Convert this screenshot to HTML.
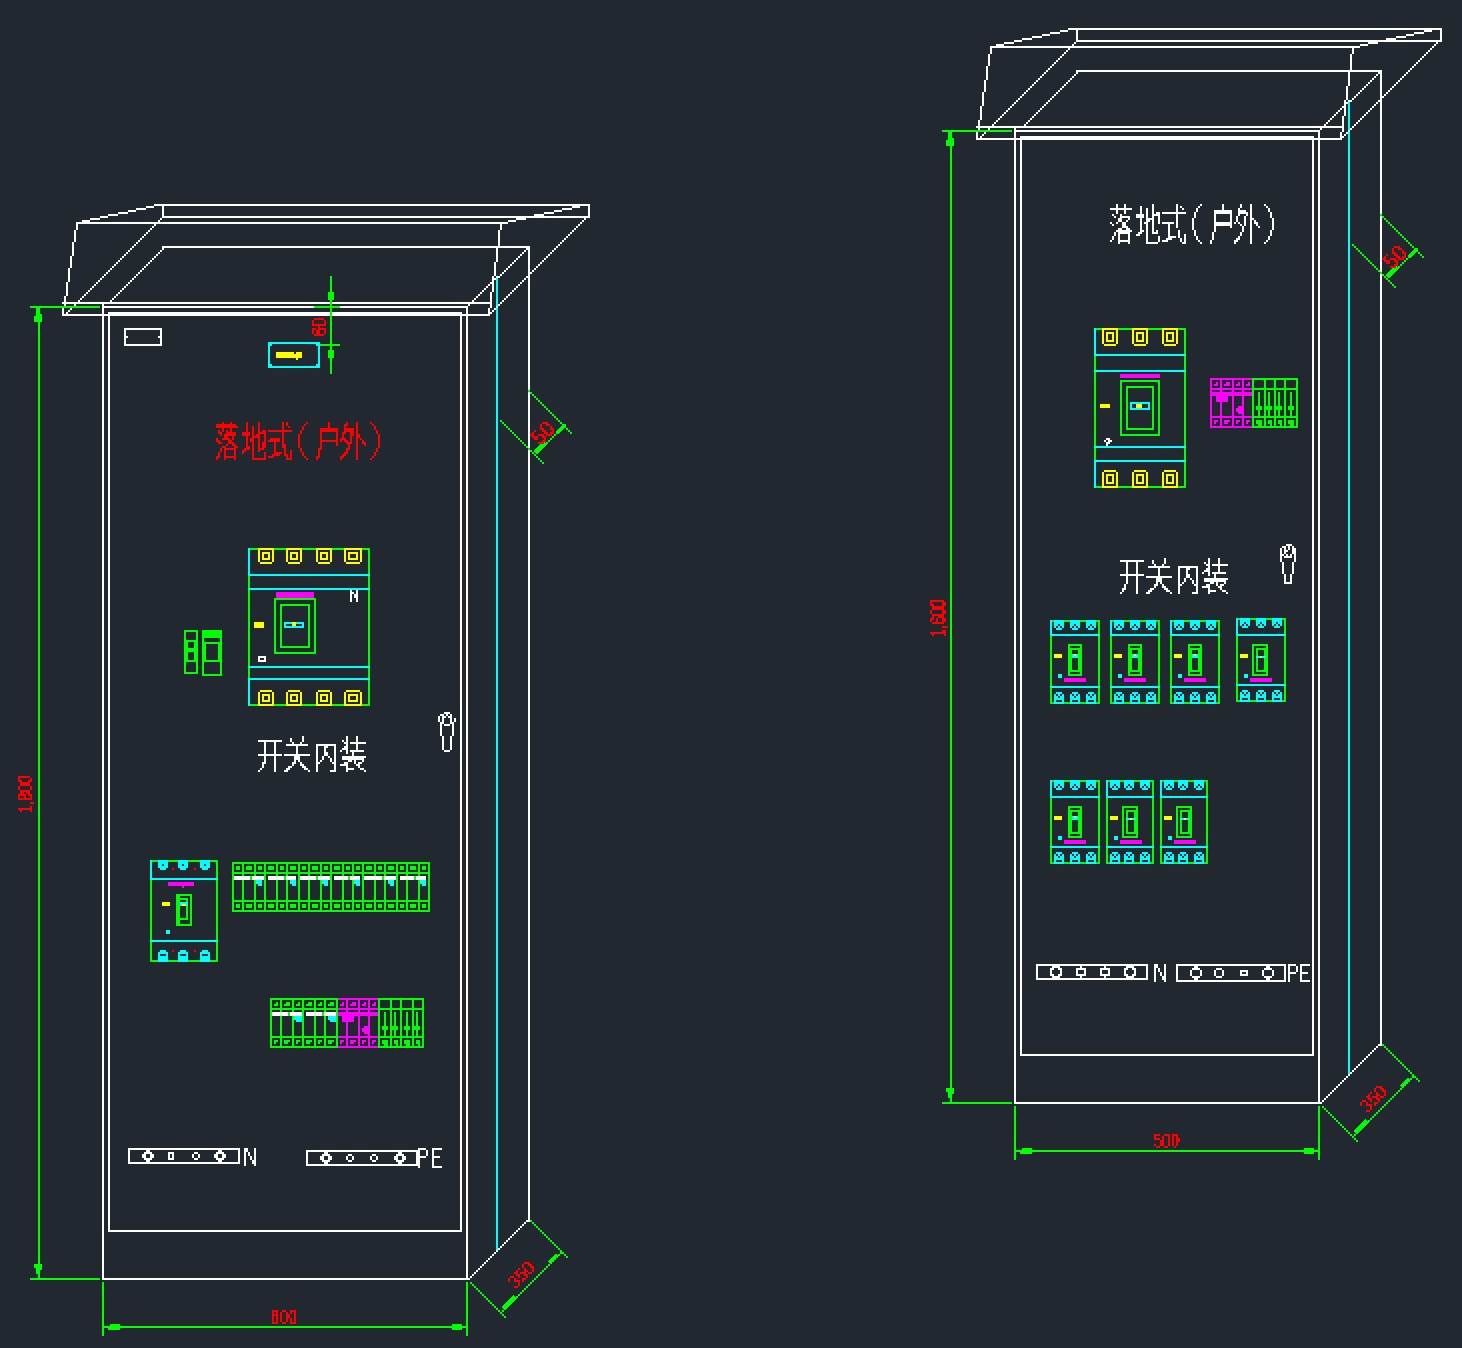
<!DOCTYPE html><html><head><meta charset="utf-8"><style>html,body{margin:0;padding:0;background:#212830;}svg{display:block}</style></head><body>
<svg width="1462" height="1348" viewBox="0 0 1462 1348" shape-rendering="crispEdges">
<rect width="1462" height="1348" fill="#212830"/>
<rect x="496" y="276" width="2" height="974" fill="#00ffff"/><rect x="158" y="204" width="432" height="2" fill="#ffffff"/><rect x="162" y="204" width="2" height="14" fill="#ffffff"/><rect x="588" y="204" width="2" height="14" fill="#ffffff"/><rect x="162" y="216" width="428" height="2" fill="#ffffff"/><path d="M158 204h2v2h-2zM156 204h2v2h-2zM154 204h2v2h-2zM152 206h2v2h-2zM150 206h2v2h-2zM148 206h2v2h-2zM146 206h2v2h-2zM144 208h2v2h-2zM142 208h2v2h-2zM140 208h2v2h-2zM138 208h2v2h-2zM136 208h2v2h-2zM134 210h2v2h-2zM132 210h2v2h-2zM130 210h2v2h-2zM128 210h2v2h-2zM126 212h2v2h-2zM124 212h2v2h-2zM122 212h2v2h-2zM120 212h2v2h-2zM118 212h2v2h-2zM116 214h2v2h-2zM114 214h2v2h-2zM112 214h2v2h-2zM110 214h2v2h-2zM108 214h2v2h-2zM106 216h2v2h-2zM104 216h2v2h-2zM102 216h2v2h-2zM100 216h2v2h-2zM98 218h2v2h-2zM96 218h2v2h-2zM94 218h2v2h-2zM92 218h2v2h-2zM90 218h2v2h-2zM88 220h2v2h-2zM86 220h2v2h-2zM84 220h2v2h-2zM82 220h2v2h-2zM80 222h2v2h-2zM78 222h2v2h-2zM76 222h2v2h-2z" fill="#ffffff"/><rect x="76" y="222" width="428" height="2" fill="#ffffff"/><path d="M502 222h2v2h-2zM504 222h2v2h-2zM506 222h2v2h-2zM508 220h2v2h-2zM510 220h2v2h-2zM512 220h2v2h-2zM514 220h2v2h-2zM516 218h2v2h-2zM518 218h2v2h-2zM520 218h2v2h-2zM522 218h2v2h-2zM524 218h2v2h-2zM526 216h2v2h-2zM528 216h2v2h-2zM530 216h2v2h-2zM532 216h2v2h-2zM534 214h2v2h-2zM536 214h2v2h-2zM538 214h2v2h-2zM540 214h2v2h-2zM542 214h2v2h-2zM544 212h2v2h-2zM546 212h2v2h-2zM548 212h2v2h-2zM550 212h2v2h-2zM552 212h2v2h-2zM554 210h2v2h-2zM556 210h2v2h-2zM558 210h2v2h-2zM560 210h2v2h-2zM562 208h2v2h-2zM564 208h2v2h-2zM566 208h2v2h-2zM568 208h2v2h-2zM570 208h2v2h-2zM572 206h2v2h-2zM574 206h2v2h-2zM576 206h2v2h-2zM578 206h2v2h-2zM580 204h2v2h-2zM582 204h2v2h-2zM584 204h2v2h-2z" fill="#ffffff"/><path d="M76 222h2v2h-2zM76 224h2v2h-2zM76 226h2v2h-2zM76 228h2v2h-2zM74 230h2v2h-2zM74 232h2v2h-2zM74 234h2v2h-2zM74 236h2v2h-2zM74 238h2v2h-2zM74 240h2v2h-2zM72 242h2v2h-2zM72 244h2v2h-2zM72 246h2v2h-2zM72 248h2v2h-2zM72 250h2v2h-2zM72 252h2v2h-2zM72 254h2v2h-2zM70 256h2v2h-2zM70 258h2v2h-2zM70 260h2v2h-2zM70 262h2v2h-2zM70 264h2v2h-2zM70 266h2v2h-2zM68 268h2v2h-2zM68 270h2v2h-2zM68 272h2v2h-2zM68 274h2v2h-2zM68 276h2v2h-2zM68 278h2v2h-2zM68 280h2v2h-2zM66 282h2v2h-2zM66 284h2v2h-2zM66 286h2v2h-2zM66 288h2v2h-2zM66 290h2v2h-2zM66 292h2v2h-2zM66 294h2v2h-2zM64 296h2v2h-2zM64 298h2v2h-2zM64 300h2v2h-2zM64 302h2v2h-2zM64 304h2v2h-2zM64 306h2v2h-2zM62 308h2v2h-2zM62 310h2v2h-2zM62 312h2v2h-2zM62 314h2v2h-2z" fill="#ffffff"/><path d="M500 222h2v2h-2zM500 224h2v2h-2zM500 226h2v2h-2zM500 228h2v2h-2zM498 230h2v2h-2zM498 232h2v2h-2zM498 234h2v2h-2zM498 236h2v2h-2zM498 238h2v2h-2zM498 240h2v2h-2zM498 242h2v2h-2zM498 244h2v2h-2zM496 246h2v2h-2zM496 248h2v2h-2zM496 250h2v2h-2zM496 252h2v2h-2zM496 254h2v2h-2zM496 256h2v2h-2zM496 258h2v2h-2zM496 260h2v2h-2zM494 262h2v2h-2zM494 264h2v2h-2zM494 266h2v2h-2zM494 268h2v2h-2zM494 270h2v2h-2zM494 272h2v2h-2zM494 274h2v2h-2zM492 276h2v2h-2zM492 278h2v2h-2zM492 280h2v2h-2zM492 282h2v2h-2zM492 284h2v2h-2zM492 286h2v2h-2zM492 288h2v2h-2zM492 290h2v2h-2zM490 292h2v2h-2zM490 294h2v2h-2zM490 296h2v2h-2zM490 298h2v2h-2zM490 300h2v2h-2zM490 302h2v2h-2zM490 304h2v2h-2zM490 306h2v2h-2zM488 308h2v2h-2zM488 310h2v2h-2zM488 312h2v2h-2zM488 314h2v2h-2z" fill="#ffffff"/><rect x="62" y="302" width="428" height="2" fill="#ffffff"/><rect x="62" y="314" width="428" height="2" fill="#ffffff"/><path d="M66 312h2v2h-2zM68 310h2v2h-2zM70 308h2v2h-2zM72 306h2v2h-2zM74 304h2v2h-2zM76 302h2v2h-2zM78 300h2v2h-2zM80 298h2v2h-2zM82 296h2v2h-2zM84 294h2v2h-2zM86 292h2v2h-2zM88 290h2v2h-2zM90 288h2v2h-2zM92 286h2v2h-2zM94 284h2v2h-2zM96 282h2v2h-2zM98 280h2v2h-2zM100 278h2v2h-2zM102 276h2v2h-2zM104 274h2v2h-2zM106 272h2v2h-2zM108 270h2v2h-2zM110 268h2v2h-2zM112 266h2v2h-2zM114 264h2v2h-2zM116 262h2v2h-2zM118 260h2v2h-2zM120 258h2v2h-2zM122 256h2v2h-2zM124 254h2v2h-2zM126 252h2v2h-2zM128 250h2v2h-2zM130 248h2v2h-2zM132 246h2v2h-2zM134 244h2v2h-2zM136 242h2v2h-2zM138 240h2v2h-2zM140 238h2v2h-2zM142 236h2v2h-2zM144 234h2v2h-2zM146 232h2v2h-2zM148 230h2v2h-2zM150 228h2v2h-2zM152 226h2v2h-2zM154 224h2v2h-2zM156 222h2v2h-2zM158 220h2v2h-2zM160 218h2v2h-2zM162 216h2v2h-2z" fill="#ffffff"/><path d="M490 312h2v2h-2zM492 310h2v2h-2zM494 308h2v2h-2zM496 306h2v2h-2zM498 304h2v2h-2zM500 302h2v2h-2zM502 300h2v2h-2zM504 298h2v2h-2zM506 296h2v2h-2zM508 294h2v2h-2zM510 292h2v2h-2zM512 290h2v2h-2zM514 288h2v2h-2zM516 286h2v2h-2zM518 284h2v2h-2zM520 282h2v2h-2zM522 280h2v2h-2zM524 278h2v2h-2zM526 276h2v2h-2zM528 274h2v2h-2zM530 272h2v2h-2zM532 270h2v2h-2zM534 268h2v2h-2zM536 266h2v2h-2zM538 264h2v2h-2zM540 262h2v2h-2zM542 260h2v2h-2zM544 258h2v2h-2zM546 256h2v2h-2zM548 254h2v2h-2zM550 252h2v2h-2zM552 250h2v2h-2zM554 248h2v2h-2zM556 246h2v2h-2zM558 244h2v2h-2zM560 242h2v2h-2zM562 240h2v2h-2zM564 238h2v2h-2zM566 236h2v2h-2zM568 234h2v2h-2zM570 232h2v2h-2zM572 230h2v2h-2zM574 228h2v2h-2zM576 226h2v2h-2zM578 224h2v2h-2zM580 222h2v2h-2zM582 220h2v2h-2zM584 218h2v2h-2zM586 216h2v2h-2zM588 214h2v2h-2z" fill="#ffffff"/><rect x="162" y="246" width="368" height="2" fill="#ffffff"/><path d="M108 302h2v2h-2zM110 300h2v2h-2zM112 298h2v2h-2zM114 296h2v2h-2zM116 294h2v2h-2zM118 292h2v2h-2zM120 290h2v2h-2zM122 288h2v2h-2zM124 286h2v2h-2zM126 284h2v2h-2zM128 282h2v2h-2zM130 280h2v2h-2zM132 278h2v2h-2zM134 276h2v2h-2zM136 274h2v2h-2zM138 272h2v2h-2zM140 270h2v2h-2zM142 268h2v2h-2zM144 266h2v2h-2zM146 264h2v2h-2zM148 262h2v2h-2zM150 260h2v2h-2zM152 258h2v2h-2zM154 256h2v2h-2zM156 254h2v2h-2zM158 252h2v2h-2zM160 250h2v2h-2zM162 248h2v2h-2z" fill="#ffffff"/><path d="M466 306h2v2h-2zM468 304h2v2h-2zM470 302h2v2h-2zM472 300h2v2h-2zM474 298h2v2h-2zM476 296h2v2h-2zM478 294h2v2h-2zM480 292h2v2h-2zM482 290h2v2h-2zM484 288h2v2h-2zM486 286h2v2h-2zM488 284h2v2h-2zM490 282h2v2h-2zM492 280h2v2h-2zM494 278h2v2h-2zM496 276h2v2h-2zM498 276h2v2h-2zM500 274h2v2h-2zM502 272h2v2h-2zM504 270h2v2h-2zM506 268h2v2h-2zM508 266h2v2h-2zM510 264h2v2h-2zM512 262h2v2h-2zM514 260h2v2h-2zM516 258h2v2h-2zM518 256h2v2h-2zM520 254h2v2h-2zM522 252h2v2h-2zM524 250h2v2h-2zM526 248h2v2h-2zM528 246h2v2h-2z" fill="#ffffff"/><rect x="528" y="246" width="2" height="976" fill="#ffffff"/><path d="M468 1278h2v2h-2zM470 1276h2v2h-2zM472 1274h2v2h-2zM474 1272h2v2h-2zM476 1270h2v2h-2zM478 1268h2v2h-2zM480 1266h2v2h-2zM482 1264h2v2h-2zM484 1262h2v2h-2zM486 1260h2v2h-2zM488 1258h2v2h-2zM490 1256h2v2h-2zM492 1254h2v2h-2zM494 1252h2v2h-2zM496 1250h2v2h-2zM498 1248h2v2h-2zM500 1246h2v2h-2zM502 1244h2v2h-2zM504 1242h2v2h-2zM506 1240h2v2h-2zM508 1238h2v2h-2zM510 1236h2v2h-2zM512 1234h2v2h-2zM514 1232h2v2h-2zM516 1230h2v2h-2zM518 1228h2v2h-2zM520 1226h2v2h-2zM522 1224h2v2h-2zM524 1222h2v2h-2zM526 1220h2v2h-2zM528 1218h2v2h-2z" fill="#ffffff"/><rect x="102" y="306" width="366" height="2" fill="#ffffff"/><rect x="102" y="304" width="2" height="976" fill="#ffffff"/><rect x="466" y="306" width="2" height="974" fill="#ffffff"/><rect x="102" y="1278" width="366" height="2" fill="#ffffff"/><rect x="108" y="312" width="354" height="2" fill="#ffffff"/><rect x="108" y="1230" width="354" height="2" fill="#ffffff"/><rect x="108" y="312" width="2" height="920" fill="#ffffff"/><rect x="460" y="312" width="2" height="920" fill="#ffffff"/><rect x="38" y="306" width="2" height="974" fill="#00ff00"/><rect x="30" y="306" width="70" height="2" fill="#00ff00"/><rect x="30" y="1278" width="70" height="2" fill="#00ff00"/><rect x="36" y="308" width="4" height="6" fill="#00ff00"/><rect x="36" y="314" width="6" height="8" fill="#00ff00"/><rect x="34" y="316" width="2" height="6" fill="#00ff00"/><rect x="34" y="1264" width="8" height="4" fill="#00ff00"/><rect x="36" y="1268" width="6" height="2" fill="#00ff00"/><rect x="36" y="1270" width="4" height="4" fill="#00ff00"/><rect x="102" y="1326" width="366" height="2" fill="#00ff00"/><rect x="102" y="1282" width="2" height="54" fill="#00ff00"/><rect x="466" y="1282" width="2" height="54" fill="#00ff00"/><rect x="110" y="1324" width="10" height="2" fill="#00ff00"/><rect x="108" y="1328" width="12" height="2" fill="#00ff00"/><rect x="452" y="1324" width="10" height="6" fill="#00ff00"/><path d="M470 1282h2v2h-2zM472 1284h2v2h-2zM474 1286h2v2h-2zM476 1288h2v2h-2zM478 1290h2v2h-2zM480 1292h2v2h-2zM482 1294h2v2h-2zM484 1296h2v2h-2zM486 1298h2v2h-2zM488 1300h2v2h-2zM490 1302h2v2h-2zM492 1304h2v2h-2zM494 1306h2v2h-2zM496 1308h2v2h-2zM498 1310h2v2h-2zM500 1312h2v2h-2zM502 1314h2v2h-2zM504 1316h2v2h-2z" fill="#00ff00"/><path d="M530 1220h2v2h-2zM532 1222h2v2h-2zM534 1224h2v2h-2zM536 1226h2v2h-2zM538 1228h2v2h-2zM540 1230h2v2h-2zM542 1232h2v2h-2zM544 1234h2v2h-2zM546 1236h2v2h-2zM548 1238h2v2h-2zM550 1240h2v2h-2zM552 1242h2v2h-2zM554 1244h2v2h-2zM556 1246h2v2h-2zM558 1248h2v2h-2zM560 1250h2v2h-2zM562 1252h2v2h-2zM564 1254h2v2h-2zM566 1256h2v2h-2z" fill="#00ff00"/><path d="M502 1310h2v2h-2zM504 1308h2v2h-2zM506 1306h2v2h-2zM508 1304h2v2h-2zM510 1302h2v2h-2zM512 1300h2v2h-2zM514 1298h2v2h-2zM516 1296h2v2h-2zM518 1294h2v2h-2zM520 1292h2v2h-2zM522 1290h2v2h-2zM524 1288h2v2h-2zM526 1286h2v2h-2zM528 1284h2v2h-2zM530 1282h2v2h-2zM532 1280h2v2h-2zM534 1278h2v2h-2zM536 1276h2v2h-2zM538 1274h2v2h-2zM540 1272h2v2h-2zM542 1270h2v2h-2zM544 1268h2v2h-2zM546 1266h2v2h-2zM548 1264h2v2h-2zM550 1262h2v2h-2zM552 1260h2v2h-2zM554 1258h2v2h-2zM556 1256h2v2h-2zM558 1254h2v2h-2zM560 1252h2v2h-2z" fill="#00ff00"/><line x1="503" y1="1309" x2="515" y2="1297" stroke="#00ff00" stroke-width="4.5"/><line x1="549" y1="1263" x2="557" y2="1255" stroke="#00ff00" stroke-width="3"/><path d="M528 390h2v2h-2zM530 392h2v2h-2zM532 394h2v2h-2zM534 396h2v2h-2zM536 398h2v2h-2zM538 400h2v2h-2zM540 402h2v2h-2zM542 404h2v2h-2zM544 406h2v2h-2zM546 408h2v2h-2zM548 410h2v2h-2zM550 412h2v2h-2zM552 414h2v2h-2zM554 416h2v2h-2zM556 418h2v2h-2zM558 420h2v2h-2zM560 422h2v2h-2zM562 424h2v2h-2zM564 426h2v2h-2zM566 428h2v2h-2zM568 430h2v2h-2zM570 432h2v2h-2z" fill="#00ff00"/><path d="M500 420h2v2h-2zM502 422h2v2h-2zM504 424h2v2h-2zM506 426h2v2h-2zM508 428h2v2h-2zM510 430h2v2h-2zM512 432h2v2h-2zM514 434h2v2h-2zM516 436h2v2h-2zM518 438h2v2h-2zM520 440h2v2h-2zM522 442h2v2h-2zM524 444h2v2h-2zM526 446h2v2h-2zM528 448h2v2h-2zM530 450h2v2h-2zM532 452h2v2h-2zM534 454h2v2h-2zM536 456h2v2h-2zM538 458h2v2h-2zM540 460h2v2h-2zM542 462h2v2h-2z" fill="#00ff00"/><path d="M534 454h2v2h-2zM536 452h2v2h-2zM538 450h2v2h-2zM540 448h2v2h-2zM542 446h2v2h-2zM544 444h2v2h-2zM546 442h2v2h-2zM548 440h2v2h-2zM550 438h2v2h-2zM552 436h2v2h-2zM554 434h2v2h-2zM556 432h2v2h-2zM558 430h2v2h-2zM560 428h2v2h-2zM562 426h2v2h-2zM564 424h2v2h-2z" fill="#00ff00"/><line x1="535" y1="453" x2="545" y2="443" stroke="#00ff00" stroke-width="4.5"/><line x1="557" y1="433" x2="563" y2="427" stroke="#00ff00" stroke-width="3"/><rect x="330" y="276" width="2" height="98" fill="#00ff00"/><rect x="314" y="306" width="26" height="2" fill="#00ff00"/><rect x="320" y="344" width="20" height="2" fill="#00ff00"/><rect x="328" y="292" width="6" height="8" fill="#00ff00"/><rect x="328" y="350" width="6" height="8" fill="#00ff00"/><rect x="1348" y="100" width="2" height="974" fill="#00ffff"/><rect x="1072" y="28" width="370" height="2" fill="#ffffff"/><rect x="1076" y="28" width="2" height="14" fill="#ffffff"/><rect x="1440" y="28" width="2" height="14" fill="#ffffff"/><rect x="1076" y="40" width="366" height="2" fill="#ffffff"/><path d="M1072 28h2v2h-2zM1070 28h2v2h-2zM1068 28h2v2h-2zM1066 30h2v2h-2zM1064 30h2v2h-2zM1062 30h2v2h-2zM1060 30h2v2h-2zM1058 32h2v2h-2zM1056 32h2v2h-2zM1054 32h2v2h-2zM1052 32h2v2h-2zM1050 32h2v2h-2zM1048 34h2v2h-2zM1046 34h2v2h-2zM1044 34h2v2h-2zM1042 34h2v2h-2zM1040 36h2v2h-2zM1038 36h2v2h-2zM1036 36h2v2h-2zM1034 36h2v2h-2zM1032 36h2v2h-2zM1030 38h2v2h-2zM1028 38h2v2h-2zM1026 38h2v2h-2zM1024 38h2v2h-2zM1022 38h2v2h-2zM1020 40h2v2h-2zM1018 40h2v2h-2zM1016 40h2v2h-2zM1014 40h2v2h-2zM1012 42h2v2h-2zM1010 42h2v2h-2zM1008 42h2v2h-2zM1006 42h2v2h-2zM1004 42h2v2h-2zM1002 44h2v2h-2zM1000 44h2v2h-2zM998 44h2v2h-2zM996 44h2v2h-2zM994 46h2v2h-2zM992 46h2v2h-2zM990 46h2v2h-2z" fill="#ffffff"/><rect x="990" y="46" width="366" height="2" fill="#ffffff"/><path d="M1354 46h2v2h-2zM1356 46h2v2h-2zM1358 46h2v2h-2zM1360 44h2v2h-2zM1362 44h2v2h-2zM1364 44h2v2h-2zM1366 44h2v2h-2zM1368 42h2v2h-2zM1370 42h2v2h-2zM1372 42h2v2h-2zM1374 42h2v2h-2zM1376 42h2v2h-2zM1378 40h2v2h-2zM1380 40h2v2h-2zM1382 40h2v2h-2zM1384 40h2v2h-2zM1386 38h2v2h-2zM1388 38h2v2h-2zM1390 38h2v2h-2zM1392 38h2v2h-2zM1394 38h2v2h-2zM1396 36h2v2h-2zM1398 36h2v2h-2zM1400 36h2v2h-2zM1402 36h2v2h-2zM1404 36h2v2h-2zM1406 34h2v2h-2zM1408 34h2v2h-2zM1410 34h2v2h-2zM1412 34h2v2h-2zM1414 32h2v2h-2zM1416 32h2v2h-2zM1418 32h2v2h-2zM1420 32h2v2h-2zM1422 32h2v2h-2zM1424 30h2v2h-2zM1426 30h2v2h-2zM1428 30h2v2h-2zM1430 30h2v2h-2zM1432 28h2v2h-2zM1434 28h2v2h-2zM1436 28h2v2h-2z" fill="#ffffff"/><path d="M990 46h2v2h-2zM990 48h2v2h-2zM990 50h2v2h-2zM990 52h2v2h-2zM988 54h2v2h-2zM988 56h2v2h-2zM988 58h2v2h-2zM988 60h2v2h-2zM988 62h2v2h-2zM988 64h2v2h-2zM986 66h2v2h-2zM986 68h2v2h-2zM986 70h2v2h-2zM986 72h2v2h-2zM986 74h2v2h-2zM986 76h2v2h-2zM986 78h2v2h-2zM984 80h2v2h-2zM984 82h2v2h-2zM984 84h2v2h-2zM984 86h2v2h-2zM984 88h2v2h-2zM984 90h2v2h-2zM982 92h2v2h-2zM982 94h2v2h-2zM982 96h2v2h-2zM982 98h2v2h-2zM982 100h2v2h-2zM982 102h2v2h-2zM982 104h2v2h-2zM980 106h2v2h-2zM980 108h2v2h-2zM980 110h2v2h-2zM980 112h2v2h-2zM980 114h2v2h-2zM980 116h2v2h-2zM980 118h2v2h-2zM978 120h2v2h-2zM978 122h2v2h-2zM978 124h2v2h-2zM978 126h2v2h-2zM978 128h2v2h-2zM978 130h2v2h-2zM976 132h2v2h-2zM976 134h2v2h-2zM976 136h2v2h-2zM976 138h2v2h-2z" fill="#ffffff"/><path d="M1352 46h2v2h-2zM1352 48h2v2h-2zM1352 50h2v2h-2zM1352 52h2v2h-2zM1350 54h2v2h-2zM1350 56h2v2h-2zM1350 58h2v2h-2zM1350 60h2v2h-2zM1350 62h2v2h-2zM1350 64h2v2h-2zM1350 66h2v2h-2zM1350 68h2v2h-2zM1348 70h2v2h-2zM1348 72h2v2h-2zM1348 74h2v2h-2zM1348 76h2v2h-2zM1348 78h2v2h-2zM1348 80h2v2h-2zM1348 82h2v2h-2zM1348 84h2v2h-2zM1346 86h2v2h-2zM1346 88h2v2h-2zM1346 90h2v2h-2zM1346 92h2v2h-2zM1346 94h2v2h-2zM1346 96h2v2h-2zM1346 98h2v2h-2zM1344 100h2v2h-2zM1344 102h2v2h-2zM1344 104h2v2h-2zM1344 106h2v2h-2zM1344 108h2v2h-2zM1344 110h2v2h-2zM1344 112h2v2h-2zM1344 114h2v2h-2zM1342 116h2v2h-2zM1342 118h2v2h-2zM1342 120h2v2h-2zM1342 122h2v2h-2zM1342 124h2v2h-2zM1342 126h2v2h-2zM1342 128h2v2h-2zM1342 130h2v2h-2zM1340 132h2v2h-2zM1340 134h2v2h-2zM1340 136h2v2h-2zM1340 138h2v2h-2z" fill="#ffffff"/><rect x="976" y="126" width="366" height="2" fill="#ffffff"/><rect x="976" y="138" width="366" height="2" fill="#ffffff"/><path d="M980 136h2v2h-2zM982 134h2v2h-2zM984 132h2v2h-2zM986 130h2v2h-2zM988 128h2v2h-2zM990 126h2v2h-2zM992 124h2v2h-2zM994 122h2v2h-2zM996 120h2v2h-2zM998 118h2v2h-2zM1000 116h2v2h-2zM1002 114h2v2h-2zM1004 112h2v2h-2zM1006 110h2v2h-2zM1008 108h2v2h-2zM1010 106h2v2h-2zM1012 104h2v2h-2zM1014 102h2v2h-2zM1016 100h2v2h-2zM1018 98h2v2h-2zM1020 96h2v2h-2zM1022 94h2v2h-2zM1024 92h2v2h-2zM1026 90h2v2h-2zM1028 88h2v2h-2zM1030 86h2v2h-2zM1032 84h2v2h-2zM1034 82h2v2h-2zM1036 80h2v2h-2zM1038 78h2v2h-2zM1040 76h2v2h-2zM1042 74h2v2h-2zM1044 72h2v2h-2zM1046 70h2v2h-2zM1048 68h2v2h-2zM1050 66h2v2h-2zM1052 64h2v2h-2zM1054 62h2v2h-2zM1056 60h2v2h-2zM1058 58h2v2h-2zM1060 56h2v2h-2zM1062 54h2v2h-2zM1064 52h2v2h-2zM1066 50h2v2h-2zM1068 48h2v2h-2zM1070 46h2v2h-2zM1072 44h2v2h-2zM1074 42h2v2h-2zM1076 40h2v2h-2z" fill="#ffffff"/><path d="M1342 136h2v2h-2zM1344 134h2v2h-2zM1346 132h2v2h-2zM1348 130h2v2h-2zM1350 128h2v2h-2zM1352 126h2v2h-2zM1354 124h2v2h-2zM1356 122h2v2h-2zM1358 120h2v2h-2zM1360 118h2v2h-2zM1362 116h2v2h-2zM1364 114h2v2h-2zM1366 112h2v2h-2zM1368 110h2v2h-2zM1370 108h2v2h-2zM1372 106h2v2h-2zM1374 104h2v2h-2zM1376 102h2v2h-2zM1378 100h2v2h-2zM1380 98h2v2h-2zM1382 96h2v2h-2zM1384 94h2v2h-2zM1386 92h2v2h-2zM1388 90h2v2h-2zM1390 88h2v2h-2zM1392 86h2v2h-2zM1394 84h2v2h-2zM1396 82h2v2h-2zM1398 80h2v2h-2zM1400 78h2v2h-2zM1402 76h2v2h-2zM1404 74h2v2h-2zM1406 72h2v2h-2zM1408 70h2v2h-2zM1410 68h2v2h-2zM1412 66h2v2h-2zM1414 64h2v2h-2zM1416 62h2v2h-2zM1418 60h2v2h-2zM1420 58h2v2h-2zM1422 56h2v2h-2zM1424 54h2v2h-2zM1426 52h2v2h-2zM1428 50h2v2h-2zM1430 48h2v2h-2zM1432 46h2v2h-2zM1434 44h2v2h-2zM1436 42h2v2h-2zM1438 40h2v2h-2zM1440 38h2v2h-2z" fill="#ffffff"/><rect x="1076" y="70" width="306" height="2" fill="#ffffff"/><path d="M1022 126h2v2h-2zM1024 124h2v2h-2zM1026 122h2v2h-2zM1028 120h2v2h-2zM1030 118h2v2h-2zM1032 116h2v2h-2zM1034 114h2v2h-2zM1036 112h2v2h-2zM1038 110h2v2h-2zM1040 108h2v2h-2zM1042 106h2v2h-2zM1044 104h2v2h-2zM1046 102h2v2h-2zM1048 100h2v2h-2zM1050 98h2v2h-2zM1052 96h2v2h-2zM1054 94h2v2h-2zM1056 92h2v2h-2zM1058 90h2v2h-2zM1060 88h2v2h-2zM1062 86h2v2h-2zM1064 84h2v2h-2zM1066 82h2v2h-2zM1068 80h2v2h-2zM1070 78h2v2h-2zM1072 76h2v2h-2zM1074 74h2v2h-2zM1076 72h2v2h-2z" fill="#ffffff"/><path d="M1318 130h2v2h-2zM1320 128h2v2h-2zM1322 126h2v2h-2zM1324 124h2v2h-2zM1326 122h2v2h-2zM1328 120h2v2h-2zM1330 118h2v2h-2zM1332 116h2v2h-2zM1334 114h2v2h-2zM1336 112h2v2h-2zM1338 110h2v2h-2zM1340 108h2v2h-2zM1342 106h2v2h-2zM1344 104h2v2h-2zM1346 102h2v2h-2zM1348 100h2v2h-2zM1350 100h2v2h-2zM1352 98h2v2h-2zM1354 96h2v2h-2zM1356 94h2v2h-2zM1358 92h2v2h-2zM1360 90h2v2h-2zM1362 88h2v2h-2zM1364 86h2v2h-2zM1366 84h2v2h-2zM1368 82h2v2h-2zM1370 80h2v2h-2zM1372 78h2v2h-2zM1374 76h2v2h-2zM1376 74h2v2h-2zM1378 72h2v2h-2zM1380 70h2v2h-2z" fill="#ffffff"/><rect x="1380" y="70" width="2" height="976" fill="#ffffff"/><path d="M1320 1102h2v2h-2zM1322 1100h2v2h-2zM1324 1098h2v2h-2zM1326 1096h2v2h-2zM1328 1094h2v2h-2zM1330 1092h2v2h-2zM1332 1090h2v2h-2zM1334 1088h2v2h-2zM1336 1086h2v2h-2zM1338 1084h2v2h-2zM1340 1082h2v2h-2zM1342 1080h2v2h-2zM1344 1078h2v2h-2zM1346 1076h2v2h-2zM1348 1074h2v2h-2zM1350 1072h2v2h-2zM1352 1070h2v2h-2zM1354 1068h2v2h-2zM1356 1066h2v2h-2zM1358 1064h2v2h-2zM1360 1062h2v2h-2zM1362 1060h2v2h-2zM1364 1058h2v2h-2zM1366 1056h2v2h-2zM1368 1054h2v2h-2zM1370 1052h2v2h-2zM1372 1050h2v2h-2zM1374 1048h2v2h-2zM1376 1046h2v2h-2zM1378 1044h2v2h-2zM1380 1042h2v2h-2z" fill="#ffffff"/><rect x="1014" y="130" width="306" height="2" fill="#ffffff"/><rect x="1014" y="128" width="2" height="976" fill="#ffffff"/><rect x="1318" y="130" width="2" height="974" fill="#ffffff"/><rect x="1014" y="1102" width="306" height="2" fill="#ffffff"/><rect x="1020" y="136" width="294" height="2" fill="#ffffff"/><rect x="1020" y="1054" width="294" height="2" fill="#ffffff"/><rect x="1020" y="136" width="2" height="920" fill="#ffffff"/><rect x="1312" y="136" width="2" height="920" fill="#ffffff"/><rect x="950" y="130" width="2" height="974" fill="#00ff00"/><rect x="942" y="130" width="70" height="2" fill="#00ff00"/><rect x="942" y="1102" width="70" height="2" fill="#00ff00"/><rect x="948" y="132" width="4" height="6" fill="#00ff00"/><rect x="948" y="138" width="6" height="8" fill="#00ff00"/><rect x="946" y="140" width="2" height="6" fill="#00ff00"/><rect x="946" y="1088" width="8" height="4" fill="#00ff00"/><rect x="948" y="1092" width="6" height="2" fill="#00ff00"/><rect x="948" y="1094" width="4" height="4" fill="#00ff00"/><rect x="1014" y="1150" width="306" height="2" fill="#00ff00"/><rect x="1014" y="1106" width="2" height="54" fill="#00ff00"/><rect x="1318" y="1106" width="2" height="54" fill="#00ff00"/><rect x="1022" y="1148" width="10" height="2" fill="#00ff00"/><rect x="1020" y="1152" width="12" height="2" fill="#00ff00"/><rect x="1304" y="1148" width="10" height="6" fill="#00ff00"/><path d="M1322 1106h2v2h-2zM1324 1108h2v2h-2zM1326 1110h2v2h-2zM1328 1112h2v2h-2zM1330 1114h2v2h-2zM1332 1116h2v2h-2zM1334 1118h2v2h-2zM1336 1120h2v2h-2zM1338 1122h2v2h-2zM1340 1124h2v2h-2zM1342 1126h2v2h-2zM1344 1128h2v2h-2zM1346 1130h2v2h-2zM1348 1132h2v2h-2zM1350 1134h2v2h-2zM1352 1136h2v2h-2zM1354 1138h2v2h-2zM1356 1140h2v2h-2z" fill="#00ff00"/><path d="M1382 1044h2v2h-2zM1384 1046h2v2h-2zM1386 1048h2v2h-2zM1388 1050h2v2h-2zM1390 1052h2v2h-2zM1392 1054h2v2h-2zM1394 1056h2v2h-2zM1396 1058h2v2h-2zM1398 1060h2v2h-2zM1400 1062h2v2h-2zM1402 1064h2v2h-2zM1404 1066h2v2h-2zM1406 1068h2v2h-2zM1408 1070h2v2h-2zM1410 1072h2v2h-2zM1412 1074h2v2h-2zM1414 1076h2v2h-2zM1416 1078h2v2h-2zM1418 1080h2v2h-2z" fill="#00ff00"/><path d="M1354 1134h2v2h-2zM1356 1132h2v2h-2zM1358 1130h2v2h-2zM1360 1128h2v2h-2zM1362 1126h2v2h-2zM1364 1124h2v2h-2zM1366 1122h2v2h-2zM1368 1120h2v2h-2zM1370 1118h2v2h-2zM1372 1116h2v2h-2zM1374 1114h2v2h-2zM1376 1112h2v2h-2zM1378 1110h2v2h-2zM1380 1108h2v2h-2zM1382 1106h2v2h-2zM1384 1104h2v2h-2zM1386 1102h2v2h-2zM1388 1100h2v2h-2zM1390 1098h2v2h-2zM1392 1096h2v2h-2zM1394 1094h2v2h-2zM1396 1092h2v2h-2zM1398 1090h2v2h-2zM1400 1088h2v2h-2zM1402 1086h2v2h-2zM1404 1084h2v2h-2zM1406 1082h2v2h-2zM1408 1080h2v2h-2zM1410 1078h2v2h-2zM1412 1076h2v2h-2z" fill="#00ff00"/><line x1="1355" y1="1133" x2="1367" y2="1121" stroke="#00ff00" stroke-width="4.5"/><line x1="1401" y1="1087" x2="1409" y2="1079" stroke="#00ff00" stroke-width="3"/><path d="M1380 214h2v2h-2zM1382 216h2v2h-2zM1384 218h2v2h-2zM1386 220h2v2h-2zM1388 222h2v2h-2zM1390 224h2v2h-2zM1392 226h2v2h-2zM1394 228h2v2h-2zM1396 230h2v2h-2zM1398 232h2v2h-2zM1400 234h2v2h-2zM1402 236h2v2h-2zM1404 238h2v2h-2zM1406 240h2v2h-2zM1408 242h2v2h-2zM1410 244h2v2h-2zM1412 246h2v2h-2zM1414 248h2v2h-2zM1416 250h2v2h-2zM1418 252h2v2h-2zM1420 254h2v2h-2zM1422 256h2v2h-2z" fill="#00ff00"/><path d="M1352 244h2v2h-2zM1354 246h2v2h-2zM1356 248h2v2h-2zM1358 250h2v2h-2zM1360 252h2v2h-2zM1362 254h2v2h-2zM1364 256h2v2h-2zM1366 258h2v2h-2zM1368 260h2v2h-2zM1370 262h2v2h-2zM1372 264h2v2h-2zM1374 266h2v2h-2zM1376 268h2v2h-2zM1378 270h2v2h-2zM1380 272h2v2h-2zM1382 274h2v2h-2zM1384 276h2v2h-2zM1386 278h2v2h-2zM1388 280h2v2h-2zM1390 282h2v2h-2zM1392 284h2v2h-2zM1394 286h2v2h-2z" fill="#00ff00"/><path d="M1386 278h2v2h-2zM1388 276h2v2h-2zM1390 274h2v2h-2zM1392 272h2v2h-2zM1394 270h2v2h-2zM1396 268h2v2h-2zM1398 266h2v2h-2zM1400 264h2v2h-2zM1402 262h2v2h-2zM1404 260h2v2h-2zM1406 258h2v2h-2zM1408 256h2v2h-2zM1410 254h2v2h-2zM1412 252h2v2h-2zM1414 250h2v2h-2zM1416 248h2v2h-2z" fill="#00ff00"/><line x1="1387" y1="277" x2="1397" y2="267" stroke="#00ff00" stroke-width="4.5"/><line x1="1409" y1="257" x2="1415" y2="251" stroke="#00ff00" stroke-width="3"/><rect x="124" y="328" width="38" height="2" fill="#ffffff"/><rect x="124" y="344" width="38" height="2" fill="#ffffff"/><rect x="124" y="328" width="2" height="18" fill="#ffffff"/><rect x="160" y="328" width="2" height="18" fill="#ffffff"/><rect x="126" y="336" width="2" height="2" fill="#ffffff"/><rect x="158" y="336" width="2" height="2" fill="#ffffff"/><rect x="268" y="342" width="52" height="2" fill="#00ffff"/><rect x="268" y="366" width="52" height="2" fill="#00ffff"/><rect x="268" y="342" width="2" height="26" fill="#00ffff"/><rect x="318" y="342" width="2" height="26" fill="#00ffff"/><rect x="276" y="352" width="26" height="6" fill="#ffff00"/><rect x="296" y="358" width="2" height="2" fill="#ffff00"/><rect x="294" y="352" width="2" height="2" fill="#212830"/><rect x="270" y="344" width="2" height="2" fill="#00ffff"/><rect x="316" y="344" width="2" height="2" fill="#00ffff"/><rect x="270" y="364" width="2" height="2" fill="#00ffff"/><rect x="316" y="364" width="2" height="2" fill="#00ffff"/><rect x="248" y="548" width="122" height="2" fill="#00ff00"/><rect x="248" y="704" width="122" height="2" fill="#00ff00"/><rect x="368" y="548" width="2" height="158" fill="#00ff00"/><rect x="248" y="548" width="2" height="28" fill="#00ffff"/><rect x="248" y="576" width="2" height="104" fill="#00ff00"/><rect x="248" y="678" width="2" height="28" fill="#00ffff"/><rect x="248" y="574" width="122" height="2" fill="#00ffff"/><rect x="248" y="588" width="122" height="2" fill="#00ffff"/><rect x="248" y="666" width="122" height="2" fill="#00ffff"/><rect x="248" y="678" width="122" height="2" fill="#00ffff"/><rect x="258" y="548" width="16" height="2" fill="#ffff00"/><rect x="258" y="548" width="2" height="14" fill="#ffff00"/><rect x="272" y="548" width="2" height="14" fill="#ffff00"/><rect x="260" y="562" width="12" height="2" fill="#ffff00"/><rect x="262" y="552" width="8" height="2" fill="#ffff00"/><rect x="262" y="558" width="8" height="2" fill="#ffff00"/><rect x="262" y="552" width="2" height="8" fill="#ffff00"/><rect x="268" y="552" width="2" height="8" fill="#ffff00"/><rect x="264" y="554" width="4" height="4" fill="#212830"/><rect x="260" y="690" width="12" height="2" fill="#ffff00"/><rect x="258" y="692" width="2" height="14" fill="#ffff00"/><rect x="272" y="692" width="2" height="14" fill="#ffff00"/><rect x="258" y="704" width="16" height="2" fill="#ffff00"/><rect x="262" y="694" width="8" height="2" fill="#ffff00"/><rect x="262" y="700" width="8" height="2" fill="#ffff00"/><rect x="262" y="694" width="2" height="8" fill="#ffff00"/><rect x="268" y="694" width="2" height="8" fill="#ffff00"/><rect x="264" y="696" width="4" height="4" fill="#212830"/><rect x="286" y="548" width="16" height="2" fill="#ffff00"/><rect x="286" y="548" width="2" height="14" fill="#ffff00"/><rect x="300" y="548" width="2" height="14" fill="#ffff00"/><rect x="288" y="562" width="12" height="2" fill="#ffff00"/><rect x="290" y="552" width="8" height="2" fill="#ffff00"/><rect x="290" y="558" width="8" height="2" fill="#ffff00"/><rect x="290" y="552" width="2" height="8" fill="#ffff00"/><rect x="296" y="552" width="2" height="8" fill="#ffff00"/><rect x="292" y="554" width="4" height="4" fill="#212830"/><rect x="288" y="690" width="12" height="2" fill="#ffff00"/><rect x="286" y="692" width="2" height="14" fill="#ffff00"/><rect x="300" y="692" width="2" height="14" fill="#ffff00"/><rect x="286" y="704" width="16" height="2" fill="#ffff00"/><rect x="290" y="694" width="8" height="2" fill="#ffff00"/><rect x="290" y="700" width="8" height="2" fill="#ffff00"/><rect x="290" y="694" width="2" height="8" fill="#ffff00"/><rect x="296" y="694" width="2" height="8" fill="#ffff00"/><rect x="292" y="696" width="4" height="4" fill="#212830"/><rect x="316" y="548" width="16" height="2" fill="#ffff00"/><rect x="316" y="548" width="2" height="14" fill="#ffff00"/><rect x="330" y="548" width="2" height="14" fill="#ffff00"/><rect x="318" y="562" width="12" height="2" fill="#ffff00"/><rect x="320" y="552" width="8" height="2" fill="#ffff00"/><rect x="320" y="558" width="8" height="2" fill="#ffff00"/><rect x="320" y="552" width="2" height="8" fill="#ffff00"/><rect x="326" y="552" width="2" height="8" fill="#ffff00"/><rect x="322" y="554" width="4" height="4" fill="#212830"/><rect x="318" y="690" width="12" height="2" fill="#ffff00"/><rect x="316" y="692" width="2" height="14" fill="#ffff00"/><rect x="330" y="692" width="2" height="14" fill="#ffff00"/><rect x="316" y="704" width="16" height="2" fill="#ffff00"/><rect x="320" y="694" width="8" height="2" fill="#ffff00"/><rect x="320" y="700" width="8" height="2" fill="#ffff00"/><rect x="320" y="694" width="2" height="8" fill="#ffff00"/><rect x="326" y="694" width="2" height="8" fill="#ffff00"/><rect x="322" y="696" width="4" height="4" fill="#212830"/><rect x="344" y="548" width="18" height="2" fill="#ffff00"/><rect x="344" y="548" width="2" height="14" fill="#ffff00"/><rect x="360" y="548" width="2" height="14" fill="#ffff00"/><rect x="346" y="562" width="14" height="2" fill="#ffff00"/><rect x="348" y="552" width="10" height="2" fill="#ffff00"/><rect x="348" y="558" width="10" height="2" fill="#ffff00"/><rect x="348" y="552" width="2" height="8" fill="#ffff00"/><rect x="356" y="552" width="2" height="8" fill="#ffff00"/><rect x="350" y="554" width="6" height="4" fill="#212830"/><rect x="346" y="690" width="14" height="2" fill="#ffff00"/><rect x="344" y="692" width="2" height="14" fill="#ffff00"/><rect x="360" y="692" width="2" height="14" fill="#ffff00"/><rect x="344" y="704" width="18" height="2" fill="#ffff00"/><rect x="348" y="694" width="10" height="2" fill="#ffff00"/><rect x="348" y="700" width="10" height="2" fill="#ffff00"/><rect x="348" y="694" width="2" height="8" fill="#ffff00"/><rect x="356" y="694" width="2" height="8" fill="#ffff00"/><rect x="350" y="696" width="6" height="4" fill="#212830"/><rect x="276" y="592" width="38" height="6" fill="#ff00ff"/><rect x="274" y="598" width="42" height="2" fill="#00ff00"/><rect x="274" y="652" width="42" height="2" fill="#00ff00"/><rect x="274" y="598" width="2" height="56" fill="#00ff00"/><rect x="314" y="598" width="2" height="56" fill="#00ff00"/><rect x="280" y="604" width="30" height="2" fill="#00ff00"/><rect x="280" y="646" width="30" height="2" fill="#00ff00"/><rect x="280" y="604" width="2" height="44" fill="#00ff00"/><rect x="308" y="604" width="2" height="44" fill="#00ff00"/><rect x="284" y="622" width="20" height="2" fill="#00ffff"/><rect x="284" y="626" width="20" height="2" fill="#00ffff"/><rect x="284" y="622" width="2" height="6" fill="#00ffff"/><rect x="302" y="622" width="2" height="6" fill="#00ffff"/><rect x="292" y="622" width="4" height="4" fill="#ffff00"/><rect x="254" y="622" width="10" height="6" fill="#ffff00"/><rect x="258" y="656" width="8" height="2" fill="#ffffff"/><rect x="258" y="660" width="8" height="2" fill="#ffffff"/><rect x="258" y="656" width="2" height="6" fill="#ffffff"/><rect x="264" y="656" width="2" height="6" fill="#ffffff"/><rect x="184" y="630" width="14" height="44" fill="#00ff00"/><rect x="186" y="632" width="10" height="8" fill="#212830"/><rect x="188" y="642" width="6" height="6" fill="#212830"/><rect x="188" y="652" width="6" height="8" fill="#212830"/><rect x="186" y="662" width="10" height="10" fill="#212830"/><rect x="202" y="630" width="20" height="46" fill="#00ff00"/><rect x="204" y="638" width="16" height="4" fill="#212830"/><rect x="206" y="644" width="12" height="16" fill="#212830"/><rect x="204" y="662" width="16" height="12" fill="#212830"/><rect x="150" y="860" width="68" height="2" fill="#00ff00"/><rect x="150" y="960" width="68" height="2" fill="#00ff00"/><rect x="216" y="860" width="2" height="102" fill="#00ff00"/><rect x="150" y="860" width="2" height="20" fill="#00ffff"/><rect x="150" y="880" width="2" height="82" fill="#00ff00"/><rect x="158" y="860" width="10" height="10" fill="#00ffff"/><rect x="162" y="864" width="2" height="2" fill="#212830"/><rect x="158" y="868" width="2" height="2" fill="#212830"/><rect x="166" y="868" width="2" height="2" fill="#212830"/><rect x="158" y="950" width="10" height="12" fill="#00ffff"/><rect x="160" y="954" width="6" height="2" fill="#212830"/><rect x="158" y="950" width="2" height="2" fill="#212830"/><rect x="166" y="950" width="2" height="2" fill="#212830"/><rect x="178" y="860" width="10" height="10" fill="#00ffff"/><rect x="182" y="864" width="2" height="2" fill="#212830"/><rect x="178" y="868" width="2" height="2" fill="#212830"/><rect x="186" y="868" width="2" height="2" fill="#212830"/><rect x="178" y="950" width="10" height="12" fill="#00ffff"/><rect x="180" y="954" width="6" height="2" fill="#212830"/><rect x="178" y="950" width="2" height="2" fill="#212830"/><rect x="186" y="950" width="2" height="2" fill="#212830"/><rect x="200" y="860" width="10" height="10" fill="#00ffff"/><rect x="204" y="864" width="2" height="2" fill="#212830"/><rect x="200" y="868" width="2" height="2" fill="#212830"/><rect x="208" y="868" width="2" height="2" fill="#212830"/><rect x="200" y="950" width="10" height="12" fill="#00ffff"/><rect x="202" y="954" width="6" height="2" fill="#212830"/><rect x="200" y="950" width="2" height="2" fill="#212830"/><rect x="208" y="950" width="2" height="2" fill="#212830"/><rect x="172" y="868" width="2" height="2" fill="#ff0000"/><rect x="194" y="868" width="2" height="2" fill="#ff0000"/><rect x="172" y="950" width="2" height="2" fill="#ff0000"/><rect x="194" y="950" width="2" height="2" fill="#ff0000"/><rect x="150" y="878" width="68" height="2" fill="#00ffff"/><rect x="150" y="940" width="68" height="2" fill="#00ffff"/><rect x="168" y="882" width="26" height="4" fill="#ff00ff"/><rect x="182" y="886" width="2" height="2" fill="#ff00ff"/><rect x="176" y="894" width="16" height="2" fill="#00ff00"/><rect x="176" y="924" width="16" height="2" fill="#00ff00"/><rect x="176" y="894" width="2" height="32" fill="#00ff00"/><rect x="190" y="894" width="2" height="32" fill="#00ff00"/><rect x="178" y="896" width="2" height="28" fill="#00ff00"/><rect x="178" y="898" width="10" height="2" fill="#00ff00"/><rect x="178" y="918" width="10" height="2" fill="#00ff00"/><rect x="178" y="898" width="2" height="22" fill="#00ff00"/><rect x="186" y="898" width="2" height="22" fill="#00ff00"/><rect x="180" y="902" width="8" height="4" fill="#00ffff"/><rect x="182" y="904" width="4" height="2" fill="#ffff00"/><rect x="162" y="902" width="8" height="4" fill="#ffff00"/><rect x="166" y="930" width="4" height="4" fill="#00ffff"/><rect x="232" y="862" width="12" height="50" fill="#00ff00"/><rect x="234" y="874" width="8" height="26" fill="#212830"/><rect x="234" y="864" width="8" height="8" fill="#212830"/><rect x="236" y="866" width="4" height="4" fill="#00ff00"/><rect x="234" y="902" width="8" height="8" fill="#212830"/><rect x="236" y="904" width="4" height="4" fill="#00ff00"/><rect x="242" y="862" width="14" height="50" fill="#00ff00"/><rect x="244" y="874" width="10" height="26" fill="#212830"/><rect x="244" y="864" width="10" height="8" fill="#212830"/><rect x="246" y="866" width="6" height="4" fill="#00ff00"/><rect x="244" y="902" width="10" height="8" fill="#212830"/><rect x="246" y="904" width="6" height="4" fill="#00ff00"/><rect x="254" y="862" width="12" height="50" fill="#00ff00"/><rect x="256" y="874" width="8" height="26" fill="#212830"/><rect x="256" y="864" width="8" height="8" fill="#212830"/><rect x="258" y="866" width="4" height="4" fill="#00ff00"/><rect x="256" y="902" width="8" height="8" fill="#212830"/><rect x="258" y="904" width="4" height="4" fill="#00ff00"/><rect x="264" y="862" width="14" height="50" fill="#00ff00"/><rect x="266" y="874" width="10" height="26" fill="#212830"/><rect x="266" y="864" width="10" height="8" fill="#212830"/><rect x="268" y="866" width="6" height="4" fill="#00ff00"/><rect x="266" y="902" width="10" height="8" fill="#212830"/><rect x="268" y="904" width="6" height="4" fill="#00ff00"/><rect x="276" y="862" width="12" height="50" fill="#00ff00"/><rect x="278" y="874" width="8" height="26" fill="#212830"/><rect x="278" y="864" width="8" height="8" fill="#212830"/><rect x="280" y="866" width="4" height="4" fill="#00ff00"/><rect x="278" y="902" width="8" height="8" fill="#212830"/><rect x="280" y="904" width="4" height="4" fill="#00ff00"/><rect x="286" y="862" width="14" height="50" fill="#00ff00"/><rect x="288" y="874" width="10" height="26" fill="#212830"/><rect x="288" y="864" width="10" height="8" fill="#212830"/><rect x="290" y="866" width="6" height="4" fill="#00ff00"/><rect x="288" y="902" width="10" height="8" fill="#212830"/><rect x="290" y="904" width="6" height="4" fill="#00ff00"/><rect x="298" y="862" width="12" height="50" fill="#00ff00"/><rect x="300" y="874" width="8" height="26" fill="#212830"/><rect x="300" y="864" width="8" height="8" fill="#212830"/><rect x="302" y="866" width="4" height="4" fill="#00ff00"/><rect x="300" y="902" width="8" height="8" fill="#212830"/><rect x="302" y="904" width="4" height="4" fill="#00ff00"/><rect x="308" y="862" width="14" height="50" fill="#00ff00"/><rect x="310" y="874" width="10" height="26" fill="#212830"/><rect x="310" y="864" width="10" height="8" fill="#212830"/><rect x="312" y="866" width="6" height="4" fill="#00ff00"/><rect x="310" y="902" width="10" height="8" fill="#212830"/><rect x="312" y="904" width="6" height="4" fill="#00ff00"/><rect x="320" y="862" width="12" height="50" fill="#00ff00"/><rect x="322" y="874" width="8" height="26" fill="#212830"/><rect x="322" y="864" width="8" height="8" fill="#212830"/><rect x="324" y="866" width="4" height="4" fill="#00ff00"/><rect x="322" y="902" width="8" height="8" fill="#212830"/><rect x="324" y="904" width="4" height="4" fill="#00ff00"/><rect x="330" y="862" width="14" height="50" fill="#00ff00"/><rect x="332" y="874" width="10" height="26" fill="#212830"/><rect x="332" y="864" width="10" height="8" fill="#212830"/><rect x="334" y="866" width="6" height="4" fill="#00ff00"/><rect x="332" y="902" width="10" height="8" fill="#212830"/><rect x="334" y="904" width="6" height="4" fill="#00ff00"/><rect x="342" y="862" width="12" height="50" fill="#00ff00"/><rect x="344" y="874" width="8" height="26" fill="#212830"/><rect x="344" y="864" width="8" height="8" fill="#212830"/><rect x="346" y="866" width="4" height="4" fill="#00ff00"/><rect x="344" y="902" width="8" height="8" fill="#212830"/><rect x="346" y="904" width="4" height="4" fill="#00ff00"/><rect x="352" y="862" width="12" height="50" fill="#00ff00"/><rect x="354" y="874" width="8" height="26" fill="#212830"/><rect x="354" y="864" width="8" height="8" fill="#212830"/><rect x="356" y="866" width="4" height="4" fill="#00ff00"/><rect x="354" y="902" width="8" height="8" fill="#212830"/><rect x="356" y="904" width="4" height="4" fill="#00ff00"/><rect x="362" y="862" width="14" height="50" fill="#00ff00"/><rect x="364" y="874" width="10" height="26" fill="#212830"/><rect x="364" y="864" width="10" height="8" fill="#212830"/><rect x="366" y="866" width="6" height="4" fill="#00ff00"/><rect x="364" y="902" width="10" height="8" fill="#212830"/><rect x="366" y="904" width="6" height="4" fill="#00ff00"/><rect x="374" y="862" width="12" height="50" fill="#00ff00"/><rect x="376" y="874" width="8" height="26" fill="#212830"/><rect x="376" y="864" width="8" height="8" fill="#212830"/><rect x="378" y="866" width="4" height="4" fill="#00ff00"/><rect x="376" y="902" width="8" height="8" fill="#212830"/><rect x="378" y="904" width="4" height="4" fill="#00ff00"/><rect x="384" y="862" width="14" height="50" fill="#00ff00"/><rect x="386" y="874" width="10" height="26" fill="#212830"/><rect x="386" y="864" width="10" height="8" fill="#212830"/><rect x="388" y="866" width="6" height="4" fill="#00ff00"/><rect x="386" y="902" width="10" height="8" fill="#212830"/><rect x="388" y="904" width="6" height="4" fill="#00ff00"/><rect x="396" y="862" width="12" height="50" fill="#00ff00"/><rect x="398" y="874" width="8" height="26" fill="#212830"/><rect x="398" y="864" width="8" height="8" fill="#212830"/><rect x="400" y="866" width="4" height="4" fill="#00ff00"/><rect x="398" y="902" width="8" height="8" fill="#212830"/><rect x="400" y="904" width="4" height="4" fill="#00ff00"/><rect x="406" y="862" width="14" height="50" fill="#00ff00"/><rect x="408" y="874" width="10" height="26" fill="#212830"/><rect x="408" y="864" width="10" height="8" fill="#212830"/><rect x="410" y="866" width="6" height="4" fill="#00ff00"/><rect x="408" y="902" width="10" height="8" fill="#212830"/><rect x="410" y="904" width="6" height="4" fill="#00ff00"/><rect x="418" y="862" width="12" height="50" fill="#00ff00"/><rect x="420" y="874" width="8" height="26" fill="#212830"/><rect x="420" y="864" width="8" height="8" fill="#212830"/><rect x="422" y="866" width="4" height="4" fill="#00ff00"/><rect x="420" y="902" width="8" height="8" fill="#212830"/><rect x="422" y="904" width="4" height="4" fill="#00ff00"/><rect x="234" y="876" width="30" height="2" fill="#ffffff"/><rect x="234" y="878" width="30" height="2" fill="#ffffff"/><rect x="250" y="876" width="2" height="4" fill="#00ff00"/><rect x="256" y="880" width="6" height="6" fill="#00ffff"/><rect x="256" y="884" width="2" height="2" fill="#212830"/><rect x="268" y="876" width="28" height="2" fill="#ffffff"/><rect x="268" y="878" width="28" height="2" fill="#ffffff"/><rect x="284" y="876" width="2" height="4" fill="#00ff00"/><rect x="290" y="880" width="6" height="6" fill="#00ffff"/><rect x="290" y="884" width="2" height="2" fill="#212830"/><rect x="300" y="876" width="30" height="2" fill="#ffffff"/><rect x="300" y="878" width="30" height="2" fill="#ffffff"/><rect x="316" y="876" width="2" height="4" fill="#00ff00"/><rect x="322" y="880" width="6" height="6" fill="#00ffff"/><rect x="322" y="884" width="2" height="2" fill="#212830"/><rect x="334" y="876" width="26" height="2" fill="#ffffff"/><rect x="334" y="878" width="26" height="2" fill="#ffffff"/><rect x="348" y="876" width="2" height="4" fill="#00ff00"/><rect x="354" y="880" width="6" height="6" fill="#00ffff"/><rect x="354" y="884" width="2" height="2" fill="#212830"/><rect x="364" y="876" width="32" height="2" fill="#ffffff"/><rect x="364" y="878" width="32" height="2" fill="#ffffff"/><rect x="382" y="876" width="2" height="4" fill="#00ff00"/><rect x="388" y="880" width="6" height="6" fill="#00ffff"/><rect x="388" y="884" width="2" height="2" fill="#212830"/><rect x="400" y="876" width="26" height="2" fill="#ffffff"/><rect x="400" y="878" width="26" height="2" fill="#ffffff"/><rect x="414" y="876" width="2" height="4" fill="#00ff00"/><rect x="420" y="880" width="6" height="6" fill="#00ffff"/><rect x="420" y="884" width="2" height="2" fill="#212830"/><rect x="270" y="998" width="12" height="50" fill="#00ff00"/><rect x="272" y="1010" width="8" height="26" fill="#212830"/><rect x="272" y="1000" width="8" height="8" fill="#212830"/><rect x="274" y="1002" width="4" height="4" fill="#00ff00"/><rect x="274" y="1002" width="2" height="2" fill="#212830"/><rect x="272" y="1038" width="8" height="8" fill="#212830"/><rect x="274" y="1040" width="4" height="4" fill="#00ff00"/><rect x="276" y="1042" width="2" height="2" fill="#212830"/><rect x="280" y="998" width="14" height="50" fill="#00ff00"/><rect x="282" y="1010" width="10" height="26" fill="#212830"/><rect x="282" y="1000" width="10" height="8" fill="#212830"/><rect x="284" y="1002" width="6" height="4" fill="#00ff00"/><rect x="284" y="1002" width="2" height="2" fill="#212830"/><rect x="282" y="1038" width="10" height="8" fill="#212830"/><rect x="284" y="1040" width="6" height="4" fill="#00ff00"/><rect x="288" y="1042" width="2" height="2" fill="#212830"/><rect x="292" y="998" width="12" height="50" fill="#00ff00"/><rect x="294" y="1010" width="8" height="26" fill="#212830"/><rect x="294" y="1000" width="8" height="8" fill="#212830"/><rect x="296" y="1002" width="4" height="4" fill="#00ff00"/><rect x="296" y="1002" width="2" height="2" fill="#212830"/><rect x="294" y="1038" width="8" height="8" fill="#212830"/><rect x="296" y="1040" width="4" height="4" fill="#00ff00"/><rect x="298" y="1042" width="2" height="2" fill="#212830"/><rect x="302" y="998" width="14" height="50" fill="#00ff00"/><rect x="304" y="1010" width="10" height="26" fill="#212830"/><rect x="304" y="1000" width="10" height="8" fill="#212830"/><rect x="306" y="1002" width="6" height="4" fill="#00ff00"/><rect x="306" y="1002" width="2" height="2" fill="#212830"/><rect x="304" y="1038" width="10" height="8" fill="#212830"/><rect x="306" y="1040" width="6" height="4" fill="#00ff00"/><rect x="310" y="1042" width="2" height="2" fill="#212830"/><rect x="314" y="998" width="12" height="50" fill="#00ff00"/><rect x="316" y="1010" width="8" height="26" fill="#212830"/><rect x="316" y="1000" width="8" height="8" fill="#212830"/><rect x="318" y="1002" width="4" height="4" fill="#00ff00"/><rect x="318" y="1002" width="2" height="2" fill="#212830"/><rect x="316" y="1038" width="8" height="8" fill="#212830"/><rect x="318" y="1040" width="4" height="4" fill="#00ff00"/><rect x="320" y="1042" width="2" height="2" fill="#212830"/><rect x="324" y="998" width="14" height="50" fill="#00ff00"/><rect x="326" y="1010" width="10" height="26" fill="#212830"/><rect x="326" y="1000" width="10" height="8" fill="#212830"/><rect x="328" y="1002" width="6" height="4" fill="#00ff00"/><rect x="328" y="1002" width="2" height="2" fill="#212830"/><rect x="326" y="1038" width="10" height="8" fill="#212830"/><rect x="328" y="1040" width="6" height="4" fill="#00ff00"/><rect x="332" y="1042" width="2" height="2" fill="#212830"/><rect x="336" y="998" width="12" height="50" fill="#ff00ff"/><rect x="338" y="1010" width="8" height="26" fill="#212830"/><rect x="338" y="1000" width="8" height="8" fill="#212830"/><rect x="340" y="1002" width="4" height="4" fill="#ff00ff"/><rect x="340" y="1002" width="2" height="2" fill="#212830"/><rect x="338" y="1038" width="8" height="8" fill="#212830"/><rect x="340" y="1040" width="4" height="4" fill="#ff00ff"/><rect x="342" y="1042" width="2" height="2" fill="#212830"/><rect x="346" y="998" width="14" height="50" fill="#ff00ff"/><rect x="348" y="1010" width="10" height="26" fill="#212830"/><rect x="348" y="1000" width="10" height="8" fill="#212830"/><rect x="350" y="1002" width="6" height="4" fill="#ff00ff"/><rect x="350" y="1002" width="2" height="2" fill="#212830"/><rect x="348" y="1038" width="10" height="8" fill="#212830"/><rect x="350" y="1040" width="6" height="4" fill="#ff00ff"/><rect x="354" y="1042" width="2" height="2" fill="#212830"/><rect x="358" y="998" width="12" height="50" fill="#ff00ff"/><rect x="360" y="1010" width="8" height="26" fill="#212830"/><rect x="360" y="1000" width="8" height="8" fill="#212830"/><rect x="362" y="1002" width="4" height="4" fill="#ff00ff"/><rect x="362" y="1002" width="2" height="2" fill="#212830"/><rect x="360" y="1038" width="8" height="8" fill="#212830"/><rect x="362" y="1040" width="4" height="4" fill="#ff00ff"/><rect x="364" y="1042" width="2" height="2" fill="#212830"/><rect x="368" y="998" width="12" height="50" fill="#ff00ff"/><rect x="370" y="1010" width="8" height="26" fill="#212830"/><rect x="370" y="1000" width="8" height="8" fill="#212830"/><rect x="372" y="1002" width="4" height="4" fill="#ff00ff"/><rect x="372" y="1002" width="2" height="2" fill="#212830"/><rect x="370" y="1038" width="8" height="8" fill="#212830"/><rect x="372" y="1040" width="4" height="4" fill="#ff00ff"/><rect x="374" y="1042" width="2" height="2" fill="#212830"/><rect x="378" y="998" width="14" height="50" fill="#00ff00"/><rect x="380" y="1010" width="10" height="26" fill="#212830"/><rect x="380" y="1000" width="10" height="8" fill="#212830"/><rect x="380" y="1038" width="10" height="8" fill="#212830"/><rect x="382" y="1040" width="6" height="6" fill="#00ff00"/><rect x="382" y="1044" width="2" height="2" fill="#212830"/><rect x="390" y="998" width="12" height="50" fill="#00ff00"/><rect x="392" y="1010" width="8" height="26" fill="#212830"/><rect x="392" y="1000" width="8" height="8" fill="#212830"/><rect x="392" y="1038" width="8" height="8" fill="#212830"/><rect x="394" y="1040" width="4" height="6" fill="#00ff00"/><rect x="394" y="1044" width="2" height="2" fill="#212830"/><rect x="400" y="998" width="14" height="50" fill="#00ff00"/><rect x="402" y="1010" width="10" height="26" fill="#212830"/><rect x="402" y="1000" width="10" height="8" fill="#212830"/><rect x="402" y="1038" width="10" height="8" fill="#212830"/><rect x="404" y="1040" width="6" height="6" fill="#00ff00"/><rect x="404" y="1044" width="2" height="2" fill="#212830"/><rect x="412" y="998" width="12" height="50" fill="#00ff00"/><rect x="414" y="1010" width="8" height="26" fill="#212830"/><rect x="414" y="1000" width="8" height="8" fill="#212830"/><rect x="414" y="1038" width="8" height="8" fill="#212830"/><rect x="416" y="1040" width="4" height="6" fill="#00ff00"/><rect x="416" y="1044" width="2" height="2" fill="#212830"/><rect x="336" y="998" width="2" height="50" fill="#00ff00"/><rect x="272" y="1012" width="30" height="2" fill="#ffffff"/><rect x="272" y="1014" width="30" height="2" fill="#ffffff"/><rect x="288" y="1012" width="2" height="4" fill="#00ff00"/><rect x="294" y="1016" width="8" height="6" fill="#00ffff"/><rect x="294" y="1020" width="2" height="2" fill="#212830"/><rect x="306" y="1012" width="30" height="2" fill="#ffffff"/><rect x="306" y="1014" width="30" height="2" fill="#ffffff"/><rect x="322" y="1012" width="2" height="4" fill="#00ff00"/><rect x="328" y="1016" width="8" height="6" fill="#00ffff"/><rect x="328" y="1020" width="2" height="2" fill="#212830"/><rect x="338" y="1012" width="40" height="4" fill="#ff00ff"/><rect x="342" y="1016" width="12" height="6" fill="#ff00ff"/><rect x="362" y="1026" width="6" height="8" fill="#ff00ff"/><rect x="362" y="1026" width="2" height="2" fill="#212830"/><rect x="362" y="1032" width="2" height="2" fill="#212830"/><rect x="384" y="1012" width="2" height="24" fill="#00ff00"/><rect x="382" y="1026" width="6" height="4" fill="#00ff00"/><rect x="394" y="1012" width="2" height="24" fill="#00ff00"/><rect x="392" y="1026" width="6" height="4" fill="#00ff00"/><rect x="406" y="1012" width="2" height="24" fill="#00ff00"/><rect x="404" y="1026" width="6" height="4" fill="#00ff00"/><rect x="416" y="1012" width="2" height="24" fill="#00ff00"/><rect x="414" y="1026" width="6" height="4" fill="#00ff00"/><rect x="128" y="1148" width="112" height="2" fill="#ffffff"/><rect x="128" y="1162" width="112" height="2" fill="#ffffff"/><rect x="128" y="1148" width="2" height="16" fill="#ffffff"/><rect x="238" y="1148" width="2" height="16" fill="#ffffff"/><rect x="146" y="1150" width="2" height="2" fill="#ffffff"/><rect x="148" y="1150" width="2" height="2" fill="#ffffff"/><rect x="144" y="1152" width="2" height="2" fill="#ffffff"/><rect x="146" y="1152" width="2" height="2" fill="#ffffff"/><rect x="148" y="1152" width="2" height="2" fill="#ffffff"/><rect x="150" y="1152" width="2" height="2" fill="#ffffff"/><rect x="142" y="1154" width="2" height="2" fill="#ffffff"/><rect x="144" y="1154" width="2" height="2" fill="#ffffff"/><rect x="150" y="1154" width="2" height="2" fill="#ffffff"/><rect x="152" y="1154" width="2" height="2" fill="#ffffff"/><rect x="142" y="1156" width="2" height="2" fill="#ffffff"/><rect x="144" y="1156" width="2" height="2" fill="#ffffff"/><rect x="150" y="1156" width="2" height="2" fill="#ffffff"/><rect x="152" y="1156" width="2" height="2" fill="#ffffff"/><rect x="144" y="1158" width="2" height="2" fill="#ffffff"/><rect x="146" y="1158" width="2" height="2" fill="#ffffff"/><rect x="148" y="1158" width="2" height="2" fill="#ffffff"/><rect x="150" y="1158" width="2" height="2" fill="#ffffff"/><rect x="146" y="1160" width="2" height="2" fill="#ffffff"/><rect x="148" y="1160" width="2" height="2" fill="#ffffff"/><rect x="168" y="1152" width="2" height="2" fill="#ffffff"/><rect x="170" y="1152" width="2" height="2" fill="#ffffff"/><rect x="172" y="1152" width="2" height="2" fill="#ffffff"/><rect x="168" y="1154" width="2" height="2" fill="#ffffff"/><rect x="172" y="1154" width="2" height="2" fill="#ffffff"/><rect x="168" y="1156" width="2" height="2" fill="#ffffff"/><rect x="172" y="1156" width="2" height="2" fill="#ffffff"/><rect x="168" y="1158" width="2" height="2" fill="#ffffff"/><rect x="170" y="1158" width="2" height="2" fill="#ffffff"/><rect x="172" y="1158" width="2" height="2" fill="#ffffff"/><rect x="194" y="1152" width="2" height="2" fill="#ffffff"/><rect x="196" y="1152" width="2" height="2" fill="#ffffff"/><rect x="192" y="1154" width="2" height="2" fill="#ffffff"/><rect x="198" y="1154" width="2" height="2" fill="#ffffff"/><rect x="192" y="1156" width="2" height="2" fill="#ffffff"/><rect x="198" y="1156" width="2" height="2" fill="#ffffff"/><rect x="194" y="1158" width="2" height="2" fill="#ffffff"/><rect x="196" y="1158" width="2" height="2" fill="#ffffff"/><rect x="218" y="1150" width="2" height="2" fill="#ffffff"/><rect x="220" y="1150" width="2" height="2" fill="#ffffff"/><rect x="216" y="1152" width="2" height="2" fill="#ffffff"/><rect x="218" y="1152" width="2" height="2" fill="#ffffff"/><rect x="220" y="1152" width="2" height="2" fill="#ffffff"/><rect x="222" y="1152" width="2" height="2" fill="#ffffff"/><rect x="214" y="1154" width="2" height="2" fill="#ffffff"/><rect x="216" y="1154" width="2" height="2" fill="#ffffff"/><rect x="222" y="1154" width="2" height="2" fill="#ffffff"/><rect x="224" y="1154" width="2" height="2" fill="#ffffff"/><rect x="214" y="1156" width="2" height="2" fill="#ffffff"/><rect x="216" y="1156" width="2" height="2" fill="#ffffff"/><rect x="222" y="1156" width="2" height="2" fill="#ffffff"/><rect x="224" y="1156" width="2" height="2" fill="#ffffff"/><rect x="216" y="1158" width="2" height="2" fill="#ffffff"/><rect x="218" y="1158" width="2" height="2" fill="#ffffff"/><rect x="220" y="1158" width="2" height="2" fill="#ffffff"/><rect x="222" y="1158" width="2" height="2" fill="#ffffff"/><rect x="218" y="1160" width="2" height="2" fill="#ffffff"/><rect x="220" y="1160" width="2" height="2" fill="#ffffff"/><rect x="306" y="1150" width="112" height="2" fill="#ffffff"/><rect x="306" y="1164" width="112" height="2" fill="#ffffff"/><rect x="306" y="1150" width="2" height="16" fill="#ffffff"/><rect x="416" y="1150" width="2" height="16" fill="#ffffff"/><rect x="324" y="1152" width="2" height="2" fill="#ffffff"/><rect x="326" y="1152" width="2" height="2" fill="#ffffff"/><rect x="322" y="1154" width="2" height="2" fill="#ffffff"/><rect x="324" y="1154" width="2" height="2" fill="#ffffff"/><rect x="326" y="1154" width="2" height="2" fill="#ffffff"/><rect x="328" y="1154" width="2" height="2" fill="#ffffff"/><rect x="320" y="1156" width="2" height="2" fill="#ffffff"/><rect x="322" y="1156" width="2" height="2" fill="#ffffff"/><rect x="328" y="1156" width="2" height="2" fill="#ffffff"/><rect x="330" y="1156" width="2" height="2" fill="#ffffff"/><rect x="320" y="1158" width="2" height="2" fill="#ffffff"/><rect x="322" y="1158" width="2" height="2" fill="#ffffff"/><rect x="328" y="1158" width="2" height="2" fill="#ffffff"/><rect x="330" y="1158" width="2" height="2" fill="#ffffff"/><rect x="322" y="1160" width="2" height="2" fill="#ffffff"/><rect x="324" y="1160" width="2" height="2" fill="#ffffff"/><rect x="326" y="1160" width="2" height="2" fill="#ffffff"/><rect x="328" y="1160" width="2" height="2" fill="#ffffff"/><rect x="324" y="1162" width="2" height="2" fill="#ffffff"/><rect x="326" y="1162" width="2" height="2" fill="#ffffff"/><rect x="348" y="1154" width="2" height="2" fill="#ffffff"/><rect x="350" y="1154" width="2" height="2" fill="#ffffff"/><rect x="346" y="1156" width="2" height="2" fill="#ffffff"/><rect x="352" y="1156" width="2" height="2" fill="#ffffff"/><rect x="346" y="1158" width="2" height="2" fill="#ffffff"/><rect x="352" y="1158" width="2" height="2" fill="#ffffff"/><rect x="348" y="1160" width="2" height="2" fill="#ffffff"/><rect x="350" y="1160" width="2" height="2" fill="#ffffff"/><rect x="372" y="1154" width="2" height="2" fill="#ffffff"/><rect x="374" y="1154" width="2" height="2" fill="#ffffff"/><rect x="370" y="1156" width="2" height="2" fill="#ffffff"/><rect x="376" y="1156" width="2" height="2" fill="#ffffff"/><rect x="370" y="1158" width="2" height="2" fill="#ffffff"/><rect x="376" y="1158" width="2" height="2" fill="#ffffff"/><rect x="372" y="1160" width="2" height="2" fill="#ffffff"/><rect x="374" y="1160" width="2" height="2" fill="#ffffff"/><rect x="398" y="1152" width="2" height="2" fill="#ffffff"/><rect x="400" y="1152" width="2" height="2" fill="#ffffff"/><rect x="396" y="1154" width="2" height="2" fill="#ffffff"/><rect x="398" y="1154" width="2" height="2" fill="#ffffff"/><rect x="400" y="1154" width="2" height="2" fill="#ffffff"/><rect x="402" y="1154" width="2" height="2" fill="#ffffff"/><rect x="394" y="1156" width="2" height="2" fill="#ffffff"/><rect x="396" y="1156" width="2" height="2" fill="#ffffff"/><rect x="402" y="1156" width="2" height="2" fill="#ffffff"/><rect x="404" y="1156" width="2" height="2" fill="#ffffff"/><rect x="394" y="1158" width="2" height="2" fill="#ffffff"/><rect x="396" y="1158" width="2" height="2" fill="#ffffff"/><rect x="402" y="1158" width="2" height="2" fill="#ffffff"/><rect x="404" y="1158" width="2" height="2" fill="#ffffff"/><rect x="396" y="1160" width="2" height="2" fill="#ffffff"/><rect x="398" y="1160" width="2" height="2" fill="#ffffff"/><rect x="400" y="1160" width="2" height="2" fill="#ffffff"/><rect x="402" y="1160" width="2" height="2" fill="#ffffff"/><rect x="398" y="1162" width="2" height="2" fill="#ffffff"/><rect x="400" y="1162" width="2" height="2" fill="#ffffff"/><rect x="444" y="712" width="2" height="2" fill="#ffffff"/><rect x="446" y="712" width="2" height="2" fill="#ffffff"/><rect x="448" y="712" width="2" height="2" fill="#ffffff"/><rect x="440" y="714" width="2" height="2" fill="#ffffff"/><rect x="442" y="714" width="2" height="2" fill="#ffffff"/><rect x="446" y="714" width="2" height="2" fill="#ffffff"/><rect x="450" y="714" width="2" height="2" fill="#ffffff"/><rect x="438" y="716" width="2" height="2" fill="#ffffff"/><rect x="442" y="716" width="2" height="2" fill="#ffffff"/><rect x="444" y="716" width="2" height="2" fill="#ffffff"/><rect x="448" y="716" width="2" height="2" fill="#ffffff"/><rect x="450" y="716" width="2" height="2" fill="#ffffff"/><rect x="438" y="718" width="2" height="2" fill="#ffffff"/><rect x="442" y="718" width="2" height="2" fill="#ffffff"/><rect x="450" y="718" width="2" height="2" fill="#ffffff"/><rect x="454" y="718" width="2" height="2" fill="#ffffff"/><rect x="438" y="720" width="2" height="2" fill="#ffffff"/><rect x="442" y="720" width="2" height="2" fill="#ffffff"/><rect x="450" y="720" width="2" height="2" fill="#ffffff"/><rect x="454" y="720" width="2" height="2" fill="#ffffff"/><rect x="440" y="722" width="2" height="2" fill="#ffffff"/><rect x="442" y="722" width="2" height="2" fill="#ffffff"/><rect x="450" y="722" width="2" height="2" fill="#ffffff"/><rect x="452" y="722" width="2" height="2" fill="#ffffff"/><rect x="440" y="724" width="2" height="2" fill="#ffffff"/><rect x="444" y="724" width="2" height="2" fill="#ffffff"/><rect x="446" y="724" width="2" height="2" fill="#ffffff"/><rect x="448" y="724" width="2" height="2" fill="#ffffff"/><rect x="452" y="724" width="2" height="2" fill="#ffffff"/><rect x="440" y="726" width="2" height="2" fill="#ffffff"/><rect x="452" y="726" width="2" height="2" fill="#ffffff"/><rect x="440" y="728" width="2" height="2" fill="#ffffff"/><rect x="452" y="728" width="2" height="2" fill="#ffffff"/><rect x="440" y="730" width="2" height="2" fill="#ffffff"/><rect x="452" y="730" width="2" height="2" fill="#ffffff"/><rect x="440" y="732" width="2" height="2" fill="#ffffff"/><rect x="452" y="732" width="2" height="2" fill="#ffffff"/><rect x="440" y="734" width="2" height="2" fill="#ffffff"/><rect x="452" y="734" width="2" height="2" fill="#ffffff"/><rect x="442" y="736" width="2" height="2" fill="#ffffff"/><rect x="450" y="736" width="2" height="2" fill="#ffffff"/><rect x="442" y="738" width="2" height="2" fill="#ffffff"/><rect x="450" y="738" width="2" height="2" fill="#ffffff"/><rect x="442" y="740" width="2" height="2" fill="#ffffff"/><rect x="450" y="740" width="2" height="2" fill="#ffffff"/><rect x="442" y="742" width="2" height="2" fill="#ffffff"/><rect x="450" y="742" width="2" height="2" fill="#ffffff"/><rect x="442" y="744" width="2" height="2" fill="#ffffff"/><rect x="450" y="744" width="2" height="2" fill="#ffffff"/><rect x="442" y="746" width="2" height="2" fill="#ffffff"/><rect x="450" y="746" width="2" height="2" fill="#ffffff"/><rect x="442" y="748" width="2" height="2" fill="#ffffff"/><rect x="450" y="748" width="2" height="2" fill="#ffffff"/><rect x="444" y="750" width="2" height="2" fill="#ffffff"/><rect x="446" y="750" width="2" height="2" fill="#ffffff"/><rect x="448" y="750" width="2" height="2" fill="#ffffff"/><rect x="1094" y="328" width="92" height="2" fill="#00ff00"/><rect x="1094" y="486" width="92" height="2" fill="#00ff00"/><rect x="1184" y="328" width="2" height="160" fill="#00ff00"/><rect x="1094" y="328" width="2" height="28" fill="#00ffff"/><rect x="1094" y="356" width="2" height="106" fill="#00ff00"/><rect x="1094" y="460" width="2" height="28" fill="#00ffff"/><rect x="1094" y="354" width="92" height="2" fill="#00ffff"/><rect x="1094" y="370" width="92" height="2" fill="#00ffff"/><rect x="1094" y="446" width="92" height="2" fill="#00ffff"/><rect x="1094" y="460" width="92" height="2" fill="#00ffff"/><rect x="1102" y="328" width="16" height="2" fill="#ffff00"/><rect x="1102" y="328" width="2" height="16" fill="#ffff00"/><rect x="1116" y="328" width="2" height="16" fill="#ffff00"/><rect x="1104" y="344" width="12" height="2" fill="#ffff00"/><rect x="1106" y="332" width="8" height="2" fill="#ffff00"/><rect x="1106" y="340" width="8" height="2" fill="#ffff00"/><rect x="1106" y="332" width="2" height="10" fill="#ffff00"/><rect x="1112" y="332" width="2" height="10" fill="#ffff00"/><rect x="1108" y="334" width="4" height="6" fill="#212830"/><rect x="1104" y="470" width="12" height="2" fill="#ffff00"/><rect x="1102" y="472" width="2" height="16" fill="#ffff00"/><rect x="1116" y="472" width="2" height="16" fill="#ffff00"/><rect x="1102" y="486" width="16" height="2" fill="#ffff00"/><rect x="1106" y="474" width="8" height="2" fill="#ffff00"/><rect x="1106" y="482" width="8" height="2" fill="#ffff00"/><rect x="1106" y="474" width="2" height="10" fill="#ffff00"/><rect x="1112" y="474" width="2" height="10" fill="#ffff00"/><rect x="1108" y="476" width="4" height="6" fill="#212830"/><rect x="1132" y="328" width="16" height="2" fill="#ffff00"/><rect x="1132" y="328" width="2" height="16" fill="#ffff00"/><rect x="1146" y="328" width="2" height="16" fill="#ffff00"/><rect x="1134" y="344" width="12" height="2" fill="#ffff00"/><rect x="1136" y="332" width="8" height="2" fill="#ffff00"/><rect x="1136" y="340" width="8" height="2" fill="#ffff00"/><rect x="1136" y="332" width="2" height="10" fill="#ffff00"/><rect x="1142" y="332" width="2" height="10" fill="#ffff00"/><rect x="1138" y="334" width="4" height="6" fill="#212830"/><rect x="1134" y="470" width="12" height="2" fill="#ffff00"/><rect x="1132" y="472" width="2" height="16" fill="#ffff00"/><rect x="1146" y="472" width="2" height="16" fill="#ffff00"/><rect x="1132" y="486" width="16" height="2" fill="#ffff00"/><rect x="1136" y="474" width="8" height="2" fill="#ffff00"/><rect x="1136" y="482" width="8" height="2" fill="#ffff00"/><rect x="1136" y="474" width="2" height="10" fill="#ffff00"/><rect x="1142" y="474" width="2" height="10" fill="#ffff00"/><rect x="1138" y="476" width="4" height="6" fill="#212830"/><rect x="1162" y="328" width="16" height="2" fill="#ffff00"/><rect x="1162" y="328" width="2" height="16" fill="#ffff00"/><rect x="1176" y="328" width="2" height="16" fill="#ffff00"/><rect x="1164" y="344" width="12" height="2" fill="#ffff00"/><rect x="1166" y="332" width="8" height="2" fill="#ffff00"/><rect x="1166" y="340" width="8" height="2" fill="#ffff00"/><rect x="1166" y="332" width="2" height="10" fill="#ffff00"/><rect x="1172" y="332" width="2" height="10" fill="#ffff00"/><rect x="1168" y="334" width="4" height="6" fill="#212830"/><rect x="1164" y="470" width="12" height="2" fill="#ffff00"/><rect x="1162" y="472" width="2" height="16" fill="#ffff00"/><rect x="1176" y="472" width="2" height="16" fill="#ffff00"/><rect x="1162" y="486" width="16" height="2" fill="#ffff00"/><rect x="1166" y="474" width="8" height="2" fill="#ffff00"/><rect x="1166" y="482" width="8" height="2" fill="#ffff00"/><rect x="1166" y="474" width="2" height="10" fill="#ffff00"/><rect x="1172" y="474" width="2" height="10" fill="#ffff00"/><rect x="1168" y="476" width="4" height="6" fill="#212830"/><rect x="1120" y="374" width="40" height="4" fill="#ff00ff"/><rect x="1120" y="380" width="40" height="2" fill="#00ff00"/><rect x="1120" y="434" width="40" height="2" fill="#00ff00"/><rect x="1120" y="380" width="2" height="56" fill="#00ff00"/><rect x="1158" y="380" width="2" height="56" fill="#00ff00"/><rect x="1126" y="386" width="28" height="2" fill="#00ff00"/><rect x="1126" y="428" width="28" height="2" fill="#00ff00"/><rect x="1126" y="386" width="2" height="44" fill="#00ff00"/><rect x="1152" y="386" width="2" height="44" fill="#00ff00"/><rect x="1130" y="402" width="20" height="2" fill="#00ffff"/><rect x="1130" y="408" width="20" height="2" fill="#00ffff"/><rect x="1130" y="402" width="2" height="8" fill="#00ffff"/><rect x="1148" y="402" width="2" height="8" fill="#00ffff"/><rect x="1136" y="404" width="6" height="4" fill="#ffff00"/><rect x="1100" y="404" width="10" height="4" fill="#ffff00"/><rect x="1106" y="438" width="2" height="2" fill="#ffffff"/><rect x="1108" y="438" width="2" height="2" fill="#ffffff"/><rect x="1104" y="440" width="2" height="2" fill="#ffffff"/><rect x="1108" y="440" width="2" height="2" fill="#ffffff"/><rect x="1110" y="440" width="2" height="2" fill="#ffffff"/><rect x="1106" y="442" width="2" height="2" fill="#ffffff"/><rect x="1108" y="442" width="2" height="2" fill="#ffffff"/><rect x="1106" y="444" width="2" height="2" fill="#ffffff"/><rect x="1210" y="378" width="12" height="50" fill="#ff00ff"/><rect x="1212" y="390" width="8" height="26" fill="#212830"/><rect x="1212" y="380" width="8" height="8" fill="#212830"/><rect x="1214" y="382" width="4" height="4" fill="#ff00ff"/><rect x="1214" y="382" width="2" height="2" fill="#212830"/><rect x="1212" y="418" width="8" height="8" fill="#212830"/><rect x="1214" y="420" width="4" height="4" fill="#ff00ff"/><rect x="1216" y="422" width="2" height="2" fill="#212830"/><rect x="1220" y="378" width="14" height="50" fill="#ff00ff"/><rect x="1222" y="390" width="10" height="26" fill="#212830"/><rect x="1222" y="380" width="10" height="8" fill="#212830"/><rect x="1224" y="382" width="6" height="4" fill="#ff00ff"/><rect x="1224" y="382" width="2" height="2" fill="#212830"/><rect x="1222" y="418" width="10" height="8" fill="#212830"/><rect x="1224" y="420" width="6" height="4" fill="#ff00ff"/><rect x="1228" y="422" width="2" height="2" fill="#212830"/><rect x="1232" y="378" width="12" height="50" fill="#ff00ff"/><rect x="1234" y="390" width="8" height="26" fill="#212830"/><rect x="1234" y="380" width="8" height="8" fill="#212830"/><rect x="1236" y="382" width="4" height="4" fill="#ff00ff"/><rect x="1236" y="382" width="2" height="2" fill="#212830"/><rect x="1234" y="418" width="8" height="8" fill="#212830"/><rect x="1236" y="420" width="4" height="4" fill="#ff00ff"/><rect x="1238" y="422" width="2" height="2" fill="#212830"/><rect x="1242" y="378" width="12" height="50" fill="#ff00ff"/><rect x="1244" y="390" width="8" height="26" fill="#212830"/><rect x="1244" y="380" width="8" height="8" fill="#212830"/><rect x="1246" y="382" width="4" height="4" fill="#ff00ff"/><rect x="1246" y="382" width="2" height="2" fill="#212830"/><rect x="1244" y="418" width="8" height="8" fill="#212830"/><rect x="1246" y="420" width="4" height="4" fill="#ff00ff"/><rect x="1248" y="422" width="2" height="2" fill="#212830"/><rect x="1252" y="378" width="14" height="50" fill="#00ff00"/><rect x="1254" y="390" width="10" height="26" fill="#212830"/><rect x="1254" y="380" width="10" height="8" fill="#212830"/><rect x="1254" y="418" width="10" height="8" fill="#212830"/><rect x="1256" y="420" width="6" height="6" fill="#00ff00"/><rect x="1256" y="424" width="2" height="2" fill="#212830"/><rect x="1264" y="378" width="12" height="50" fill="#00ff00"/><rect x="1266" y="390" width="8" height="26" fill="#212830"/><rect x="1266" y="380" width="8" height="8" fill="#212830"/><rect x="1266" y="418" width="8" height="8" fill="#212830"/><rect x="1268" y="420" width="4" height="6" fill="#00ff00"/><rect x="1268" y="424" width="2" height="2" fill="#212830"/><rect x="1274" y="378" width="12" height="50" fill="#00ff00"/><rect x="1276" y="390" width="8" height="26" fill="#212830"/><rect x="1276" y="380" width="8" height="8" fill="#212830"/><rect x="1276" y="418" width="8" height="8" fill="#212830"/><rect x="1278" y="420" width="4" height="6" fill="#00ff00"/><rect x="1278" y="424" width="2" height="2" fill="#212830"/><rect x="1284" y="378" width="14" height="50" fill="#00ff00"/><rect x="1286" y="390" width="10" height="26" fill="#212830"/><rect x="1286" y="380" width="10" height="8" fill="#212830"/><rect x="1286" y="418" width="10" height="8" fill="#212830"/><rect x="1288" y="420" width="6" height="6" fill="#00ff00"/><rect x="1288" y="424" width="2" height="2" fill="#212830"/><rect x="1212" y="392" width="40" height="4" fill="#ff00ff"/><rect x="1216" y="396" width="12" height="6" fill="#ff00ff"/><rect x="1236" y="406" width="6" height="8" fill="#ff00ff"/><rect x="1236" y="406" width="2" height="2" fill="#212830"/><rect x="1236" y="412" width="2" height="2" fill="#212830"/><rect x="1258" y="392" width="2" height="24" fill="#00ff00"/><rect x="1256" y="406" width="6" height="4" fill="#00ff00"/><rect x="1268" y="392" width="2" height="24" fill="#00ff00"/><rect x="1266" y="406" width="6" height="4" fill="#00ff00"/><rect x="1278" y="392" width="2" height="24" fill="#00ff00"/><rect x="1276" y="406" width="6" height="4" fill="#00ff00"/><rect x="1290" y="392" width="2" height="24" fill="#00ff00"/><rect x="1288" y="406" width="6" height="4" fill="#00ff00"/><rect x="1050" y="620" width="50" height="2" fill="#00ff00"/><rect x="1050" y="702" width="50" height="2" fill="#00ff00"/><rect x="1098" y="620" width="2" height="84" fill="#00ff00"/><rect x="1050" y="636" width="2" height="68" fill="#00ff00"/><rect x="1050" y="620" width="2" height="16" fill="#00ffff"/><rect x="1054" y="620" width="10" height="10" fill="#00ffff"/><rect x="1054" y="628" width="2" height="2" fill="#212830"/><rect x="1062" y="628" width="2" height="2" fill="#212830"/><rect x="1054" y="692" width="10" height="12" fill="#00ffff"/><rect x="1054" y="692" width="2" height="2" fill="#212830"/><rect x="1062" y="692" width="2" height="2" fill="#212830"/><rect x="1058" y="624" width="2" height="2" fill="#212830"/><rect x="1056" y="626" width="2" height="2" fill="#212830"/><rect x="1060" y="626" width="2" height="2" fill="#212830"/><rect x="1056" y="694" width="2" height="2" fill="#212830"/><rect x="1060" y="694" width="2" height="2" fill="#212830"/><rect x="1058" y="696" width="2" height="2" fill="#212830"/><rect x="1056" y="700" width="6" height="2" fill="#212830"/><rect x="1070" y="620" width="10" height="10" fill="#00ffff"/><rect x="1070" y="628" width="2" height="2" fill="#212830"/><rect x="1078" y="628" width="2" height="2" fill="#212830"/><rect x="1070" y="692" width="10" height="12" fill="#00ffff"/><rect x="1070" y="692" width="2" height="2" fill="#212830"/><rect x="1078" y="692" width="2" height="2" fill="#212830"/><rect x="1074" y="624" width="2" height="2" fill="#212830"/><rect x="1072" y="626" width="2" height="2" fill="#212830"/><rect x="1076" y="626" width="2" height="2" fill="#212830"/><rect x="1072" y="694" width="2" height="2" fill="#212830"/><rect x="1076" y="694" width="2" height="2" fill="#212830"/><rect x="1074" y="696" width="2" height="2" fill="#212830"/><rect x="1072" y="700" width="6" height="2" fill="#212830"/><rect x="1086" y="620" width="10" height="10" fill="#00ffff"/><rect x="1086" y="628" width="2" height="2" fill="#212830"/><rect x="1094" y="628" width="2" height="2" fill="#212830"/><rect x="1086" y="692" width="10" height="12" fill="#00ffff"/><rect x="1086" y="692" width="2" height="2" fill="#212830"/><rect x="1094" y="692" width="2" height="2" fill="#212830"/><rect x="1090" y="624" width="2" height="2" fill="#212830"/><rect x="1088" y="626" width="2" height="2" fill="#212830"/><rect x="1092" y="626" width="2" height="2" fill="#212830"/><rect x="1088" y="694" width="2" height="2" fill="#212830"/><rect x="1092" y="694" width="2" height="2" fill="#212830"/><rect x="1090" y="696" width="2" height="2" fill="#212830"/><rect x="1088" y="700" width="6" height="2" fill="#212830"/><rect x="1050" y="634" width="50" height="2" fill="#00ffff"/><rect x="1050" y="686" width="50" height="2" fill="#00ffff"/><rect x="1068" y="644" width="14" height="32" fill="#00ff00"/><rect x="1070" y="646" width="10" height="2" fill="#212830"/><rect x="1070" y="672" width="10" height="2" fill="#212830"/><rect x="1072" y="650" width="6" height="20" fill="#212830"/><rect x="1072" y="654" width="6" height="4" fill="#00ffff"/><rect x="1074" y="654" width="2" height="2" fill="#ffff00"/><rect x="1054" y="654" width="8" height="4" fill="#ffff00"/><rect x="1058" y="674" width="4" height="4" fill="#00ffff"/><rect x="1064" y="678" width="22" height="4" fill="#ff00ff"/><rect x="1110" y="620" width="50" height="2" fill="#00ff00"/><rect x="1110" y="702" width="50" height="2" fill="#00ff00"/><rect x="1158" y="620" width="2" height="84" fill="#00ff00"/><rect x="1110" y="636" width="2" height="68" fill="#00ff00"/><rect x="1110" y="620" width="2" height="16" fill="#00ffff"/><rect x="1114" y="620" width="10" height="10" fill="#00ffff"/><rect x="1114" y="628" width="2" height="2" fill="#212830"/><rect x="1122" y="628" width="2" height="2" fill="#212830"/><rect x="1114" y="692" width="10" height="12" fill="#00ffff"/><rect x="1114" y="692" width="2" height="2" fill="#212830"/><rect x="1122" y="692" width="2" height="2" fill="#212830"/><rect x="1118" y="624" width="2" height="2" fill="#212830"/><rect x="1116" y="626" width="2" height="2" fill="#212830"/><rect x="1120" y="626" width="2" height="2" fill="#212830"/><rect x="1116" y="694" width="2" height="2" fill="#212830"/><rect x="1120" y="694" width="2" height="2" fill="#212830"/><rect x="1118" y="696" width="2" height="2" fill="#212830"/><rect x="1116" y="700" width="6" height="2" fill="#212830"/><rect x="1130" y="620" width="10" height="10" fill="#00ffff"/><rect x="1130" y="628" width="2" height="2" fill="#212830"/><rect x="1138" y="628" width="2" height="2" fill="#212830"/><rect x="1130" y="692" width="10" height="12" fill="#00ffff"/><rect x="1130" y="692" width="2" height="2" fill="#212830"/><rect x="1138" y="692" width="2" height="2" fill="#212830"/><rect x="1134" y="624" width="2" height="2" fill="#212830"/><rect x="1132" y="626" width="2" height="2" fill="#212830"/><rect x="1136" y="626" width="2" height="2" fill="#212830"/><rect x="1132" y="694" width="2" height="2" fill="#212830"/><rect x="1136" y="694" width="2" height="2" fill="#212830"/><rect x="1134" y="696" width="2" height="2" fill="#212830"/><rect x="1132" y="700" width="6" height="2" fill="#212830"/><rect x="1146" y="620" width="10" height="10" fill="#00ffff"/><rect x="1146" y="628" width="2" height="2" fill="#212830"/><rect x="1154" y="628" width="2" height="2" fill="#212830"/><rect x="1146" y="692" width="10" height="12" fill="#00ffff"/><rect x="1146" y="692" width="2" height="2" fill="#212830"/><rect x="1154" y="692" width="2" height="2" fill="#212830"/><rect x="1150" y="624" width="2" height="2" fill="#212830"/><rect x="1148" y="626" width="2" height="2" fill="#212830"/><rect x="1152" y="626" width="2" height="2" fill="#212830"/><rect x="1148" y="694" width="2" height="2" fill="#212830"/><rect x="1152" y="694" width="2" height="2" fill="#212830"/><rect x="1150" y="696" width="2" height="2" fill="#212830"/><rect x="1148" y="700" width="6" height="2" fill="#212830"/><rect x="1110" y="634" width="50" height="2" fill="#00ffff"/><rect x="1110" y="686" width="50" height="2" fill="#00ffff"/><rect x="1128" y="644" width="14" height="32" fill="#00ff00"/><rect x="1130" y="646" width="10" height="2" fill="#212830"/><rect x="1130" y="672" width="10" height="2" fill="#212830"/><rect x="1132" y="650" width="6" height="20" fill="#212830"/><rect x="1132" y="654" width="6" height="4" fill="#00ffff"/><rect x="1134" y="654" width="2" height="2" fill="#ffff00"/><rect x="1114" y="654" width="8" height="4" fill="#ffff00"/><rect x="1118" y="674" width="4" height="4" fill="#00ffff"/><rect x="1124" y="678" width="22" height="4" fill="#ff00ff"/><rect x="1170" y="620" width="50" height="2" fill="#00ff00"/><rect x="1170" y="702" width="50" height="2" fill="#00ff00"/><rect x="1218" y="620" width="2" height="84" fill="#00ff00"/><rect x="1170" y="636" width="2" height="68" fill="#00ff00"/><rect x="1170" y="620" width="2" height="16" fill="#00ffff"/><rect x="1174" y="620" width="10" height="10" fill="#00ffff"/><rect x="1174" y="628" width="2" height="2" fill="#212830"/><rect x="1182" y="628" width="2" height="2" fill="#212830"/><rect x="1174" y="692" width="10" height="12" fill="#00ffff"/><rect x="1174" y="692" width="2" height="2" fill="#212830"/><rect x="1182" y="692" width="2" height="2" fill="#212830"/><rect x="1178" y="624" width="2" height="2" fill="#212830"/><rect x="1176" y="626" width="2" height="2" fill="#212830"/><rect x="1180" y="626" width="2" height="2" fill="#212830"/><rect x="1176" y="694" width="2" height="2" fill="#212830"/><rect x="1180" y="694" width="2" height="2" fill="#212830"/><rect x="1178" y="696" width="2" height="2" fill="#212830"/><rect x="1176" y="700" width="6" height="2" fill="#212830"/><rect x="1190" y="620" width="10" height="10" fill="#00ffff"/><rect x="1190" y="628" width="2" height="2" fill="#212830"/><rect x="1198" y="628" width="2" height="2" fill="#212830"/><rect x="1190" y="692" width="10" height="12" fill="#00ffff"/><rect x="1190" y="692" width="2" height="2" fill="#212830"/><rect x="1198" y="692" width="2" height="2" fill="#212830"/><rect x="1194" y="624" width="2" height="2" fill="#212830"/><rect x="1192" y="626" width="2" height="2" fill="#212830"/><rect x="1196" y="626" width="2" height="2" fill="#212830"/><rect x="1192" y="694" width="2" height="2" fill="#212830"/><rect x="1196" y="694" width="2" height="2" fill="#212830"/><rect x="1194" y="696" width="2" height="2" fill="#212830"/><rect x="1192" y="700" width="6" height="2" fill="#212830"/><rect x="1206" y="620" width="10" height="10" fill="#00ffff"/><rect x="1206" y="628" width="2" height="2" fill="#212830"/><rect x="1214" y="628" width="2" height="2" fill="#212830"/><rect x="1206" y="692" width="10" height="12" fill="#00ffff"/><rect x="1206" y="692" width="2" height="2" fill="#212830"/><rect x="1214" y="692" width="2" height="2" fill="#212830"/><rect x="1210" y="624" width="2" height="2" fill="#212830"/><rect x="1208" y="626" width="2" height="2" fill="#212830"/><rect x="1212" y="626" width="2" height="2" fill="#212830"/><rect x="1208" y="694" width="2" height="2" fill="#212830"/><rect x="1212" y="694" width="2" height="2" fill="#212830"/><rect x="1210" y="696" width="2" height="2" fill="#212830"/><rect x="1208" y="700" width="6" height="2" fill="#212830"/><rect x="1170" y="634" width="50" height="2" fill="#00ffff"/><rect x="1170" y="686" width="50" height="2" fill="#00ffff"/><rect x="1188" y="644" width="14" height="32" fill="#00ff00"/><rect x="1190" y="646" width="10" height="2" fill="#212830"/><rect x="1190" y="672" width="10" height="2" fill="#212830"/><rect x="1192" y="650" width="6" height="20" fill="#212830"/><rect x="1192" y="654" width="6" height="4" fill="#00ffff"/><rect x="1194" y="654" width="2" height="2" fill="#ffff00"/><rect x="1174" y="654" width="8" height="4" fill="#ffff00"/><rect x="1178" y="674" width="4" height="4" fill="#00ffff"/><rect x="1184" y="678" width="22" height="4" fill="#ff00ff"/><rect x="1236" y="618" width="50" height="2" fill="#00ff00"/><rect x="1236" y="700" width="50" height="2" fill="#00ff00"/><rect x="1284" y="618" width="2" height="84" fill="#00ff00"/><rect x="1236" y="636" width="2" height="66" fill="#00ff00"/><rect x="1236" y="618" width="2" height="18" fill="#00ffff"/><rect x="1240" y="618" width="10" height="10" fill="#00ffff"/><rect x="1240" y="626" width="2" height="2" fill="#212830"/><rect x="1248" y="626" width="2" height="2" fill="#212830"/><rect x="1240" y="690" width="10" height="12" fill="#00ffff"/><rect x="1240" y="690" width="2" height="2" fill="#212830"/><rect x="1248" y="690" width="2" height="2" fill="#212830"/><rect x="1244" y="622" width="2" height="2" fill="#212830"/><rect x="1242" y="624" width="2" height="2" fill="#212830"/><rect x="1246" y="624" width="2" height="2" fill="#212830"/><rect x="1242" y="692" width="2" height="2" fill="#212830"/><rect x="1246" y="692" width="2" height="2" fill="#212830"/><rect x="1244" y="694" width="2" height="2" fill="#212830"/><rect x="1242" y="698" width="6" height="2" fill="#212830"/><rect x="1256" y="618" width="10" height="10" fill="#00ffff"/><rect x="1256" y="626" width="2" height="2" fill="#212830"/><rect x="1264" y="626" width="2" height="2" fill="#212830"/><rect x="1256" y="690" width="10" height="12" fill="#00ffff"/><rect x="1256" y="690" width="2" height="2" fill="#212830"/><rect x="1264" y="690" width="2" height="2" fill="#212830"/><rect x="1260" y="622" width="2" height="2" fill="#212830"/><rect x="1258" y="624" width="2" height="2" fill="#212830"/><rect x="1262" y="624" width="2" height="2" fill="#212830"/><rect x="1258" y="692" width="2" height="2" fill="#212830"/><rect x="1262" y="692" width="2" height="2" fill="#212830"/><rect x="1260" y="694" width="2" height="2" fill="#212830"/><rect x="1258" y="698" width="6" height="2" fill="#212830"/><rect x="1272" y="618" width="10" height="10" fill="#00ffff"/><rect x="1272" y="626" width="2" height="2" fill="#212830"/><rect x="1280" y="626" width="2" height="2" fill="#212830"/><rect x="1272" y="690" width="10" height="12" fill="#00ffff"/><rect x="1272" y="690" width="2" height="2" fill="#212830"/><rect x="1280" y="690" width="2" height="2" fill="#212830"/><rect x="1276" y="622" width="2" height="2" fill="#212830"/><rect x="1274" y="624" width="2" height="2" fill="#212830"/><rect x="1278" y="624" width="2" height="2" fill="#212830"/><rect x="1274" y="692" width="2" height="2" fill="#212830"/><rect x="1278" y="692" width="2" height="2" fill="#212830"/><rect x="1276" y="694" width="2" height="2" fill="#212830"/><rect x="1274" y="698" width="6" height="2" fill="#212830"/><rect x="1236" y="634" width="50" height="2" fill="#00ffff"/><rect x="1236" y="684" width="50" height="2" fill="#00ffff"/><rect x="1252" y="644" width="16" height="2" fill="#00ff00"/><rect x="1252" y="674" width="16" height="2" fill="#00ff00"/><rect x="1252" y="644" width="2" height="32" fill="#00ff00"/><rect x="1266" y="644" width="2" height="32" fill="#00ff00"/><rect x="1256" y="648" width="10" height="24" fill="#00ff00"/><rect x="1258" y="650" width="6" height="20" fill="#212830"/><rect x="1256" y="656" width="10" height="2" fill="#00ffff"/><rect x="1260" y="656" width="2" height="2" fill="#ffff00"/><rect x="1240" y="654" width="8" height="4" fill="#ffff00"/><rect x="1244" y="674" width="4" height="4" fill="#00ffff"/><rect x="1250" y="678" width="22" height="4" fill="#ff00ff"/><rect x="1050" y="780" width="50" height="2" fill="#00ff00"/><rect x="1050" y="862" width="50" height="2" fill="#00ff00"/><rect x="1098" y="780" width="2" height="84" fill="#00ff00"/><rect x="1050" y="798" width="2" height="66" fill="#00ff00"/><rect x="1050" y="780" width="2" height="18" fill="#00ffff"/><rect x="1054" y="780" width="10" height="10" fill="#00ffff"/><rect x="1054" y="788" width="2" height="2" fill="#212830"/><rect x="1062" y="788" width="2" height="2" fill="#212830"/><rect x="1054" y="852" width="10" height="12" fill="#00ffff"/><rect x="1054" y="852" width="2" height="2" fill="#212830"/><rect x="1062" y="852" width="2" height="2" fill="#212830"/><rect x="1058" y="784" width="2" height="2" fill="#212830"/><rect x="1056" y="786" width="2" height="2" fill="#212830"/><rect x="1060" y="786" width="2" height="2" fill="#212830"/><rect x="1056" y="854" width="2" height="2" fill="#212830"/><rect x="1060" y="854" width="2" height="2" fill="#212830"/><rect x="1058" y="856" width="2" height="2" fill="#212830"/><rect x="1056" y="860" width="6" height="2" fill="#212830"/><rect x="1070" y="780" width="10" height="10" fill="#00ffff"/><rect x="1070" y="788" width="2" height="2" fill="#212830"/><rect x="1078" y="788" width="2" height="2" fill="#212830"/><rect x="1070" y="852" width="10" height="12" fill="#00ffff"/><rect x="1070" y="852" width="2" height="2" fill="#212830"/><rect x="1078" y="852" width="2" height="2" fill="#212830"/><rect x="1074" y="784" width="2" height="2" fill="#212830"/><rect x="1072" y="786" width="2" height="2" fill="#212830"/><rect x="1076" y="786" width="2" height="2" fill="#212830"/><rect x="1072" y="854" width="2" height="2" fill="#212830"/><rect x="1076" y="854" width="2" height="2" fill="#212830"/><rect x="1074" y="856" width="2" height="2" fill="#212830"/><rect x="1072" y="860" width="6" height="2" fill="#212830"/><rect x="1086" y="780" width="10" height="10" fill="#00ffff"/><rect x="1086" y="788" width="2" height="2" fill="#212830"/><rect x="1094" y="788" width="2" height="2" fill="#212830"/><rect x="1086" y="852" width="10" height="12" fill="#00ffff"/><rect x="1086" y="852" width="2" height="2" fill="#212830"/><rect x="1094" y="852" width="2" height="2" fill="#212830"/><rect x="1090" y="784" width="2" height="2" fill="#212830"/><rect x="1088" y="786" width="2" height="2" fill="#212830"/><rect x="1092" y="786" width="2" height="2" fill="#212830"/><rect x="1088" y="854" width="2" height="2" fill="#212830"/><rect x="1092" y="854" width="2" height="2" fill="#212830"/><rect x="1090" y="856" width="2" height="2" fill="#212830"/><rect x="1088" y="860" width="6" height="2" fill="#212830"/><rect x="1050" y="796" width="50" height="2" fill="#00ffff"/><rect x="1050" y="846" width="50" height="2" fill="#00ffff"/><rect x="1068" y="806" width="14" height="32" fill="#00ff00"/><rect x="1070" y="808" width="10" height="2" fill="#212830"/><rect x="1070" y="834" width="10" height="2" fill="#212830"/><rect x="1072" y="812" width="6" height="20" fill="#212830"/><rect x="1072" y="816" width="6" height="4" fill="#00ffff"/><rect x="1074" y="816" width="2" height="2" fill="#ffff00"/><rect x="1054" y="816" width="8" height="4" fill="#ffff00"/><rect x="1058" y="836" width="4" height="4" fill="#00ffff"/><rect x="1064" y="840" width="22" height="4" fill="#ff00ff"/><rect x="1106" y="780" width="48" height="2" fill="#00ff00"/><rect x="1106" y="862" width="48" height="2" fill="#00ff00"/><rect x="1152" y="780" width="2" height="84" fill="#00ff00"/><rect x="1106" y="798" width="2" height="66" fill="#00ff00"/><rect x="1106" y="780" width="2" height="18" fill="#00ffff"/><rect x="1110" y="780" width="10" height="10" fill="#00ffff"/><rect x="1110" y="788" width="2" height="2" fill="#212830"/><rect x="1118" y="788" width="2" height="2" fill="#212830"/><rect x="1110" y="852" width="10" height="12" fill="#00ffff"/><rect x="1110" y="852" width="2" height="2" fill="#212830"/><rect x="1118" y="852" width="2" height="2" fill="#212830"/><rect x="1114" y="784" width="2" height="2" fill="#212830"/><rect x="1112" y="786" width="2" height="2" fill="#212830"/><rect x="1116" y="786" width="2" height="2" fill="#212830"/><rect x="1112" y="854" width="2" height="2" fill="#212830"/><rect x="1116" y="854" width="2" height="2" fill="#212830"/><rect x="1114" y="856" width="2" height="2" fill="#212830"/><rect x="1112" y="860" width="6" height="2" fill="#212830"/><rect x="1124" y="780" width="10" height="10" fill="#00ffff"/><rect x="1124" y="788" width="2" height="2" fill="#212830"/><rect x="1132" y="788" width="2" height="2" fill="#212830"/><rect x="1124" y="852" width="10" height="12" fill="#00ffff"/><rect x="1124" y="852" width="2" height="2" fill="#212830"/><rect x="1132" y="852" width="2" height="2" fill="#212830"/><rect x="1128" y="784" width="2" height="2" fill="#212830"/><rect x="1126" y="786" width="2" height="2" fill="#212830"/><rect x="1130" y="786" width="2" height="2" fill="#212830"/><rect x="1126" y="854" width="2" height="2" fill="#212830"/><rect x="1130" y="854" width="2" height="2" fill="#212830"/><rect x="1128" y="856" width="2" height="2" fill="#212830"/><rect x="1126" y="860" width="6" height="2" fill="#212830"/><rect x="1140" y="780" width="10" height="10" fill="#00ffff"/><rect x="1140" y="788" width="2" height="2" fill="#212830"/><rect x="1148" y="788" width="2" height="2" fill="#212830"/><rect x="1140" y="852" width="10" height="12" fill="#00ffff"/><rect x="1140" y="852" width="2" height="2" fill="#212830"/><rect x="1148" y="852" width="2" height="2" fill="#212830"/><rect x="1144" y="784" width="2" height="2" fill="#212830"/><rect x="1142" y="786" width="2" height="2" fill="#212830"/><rect x="1146" y="786" width="2" height="2" fill="#212830"/><rect x="1142" y="854" width="2" height="2" fill="#212830"/><rect x="1146" y="854" width="2" height="2" fill="#212830"/><rect x="1144" y="856" width="2" height="2" fill="#212830"/><rect x="1142" y="860" width="6" height="2" fill="#212830"/><rect x="1106" y="796" width="48" height="2" fill="#00ffff"/><rect x="1106" y="846" width="48" height="2" fill="#00ffff"/><rect x="1122" y="806" width="16" height="2" fill="#00ff00"/><rect x="1122" y="836" width="16" height="2" fill="#00ff00"/><rect x="1122" y="806" width="2" height="32" fill="#00ff00"/><rect x="1136" y="806" width="2" height="32" fill="#00ff00"/><rect x="1126" y="810" width="10" height="24" fill="#00ff00"/><rect x="1128" y="812" width="6" height="20" fill="#212830"/><rect x="1126" y="818" width="10" height="2" fill="#00ffff"/><rect x="1130" y="818" width="2" height="2" fill="#ffff00"/><rect x="1110" y="816" width="8" height="4" fill="#ffff00"/><rect x="1114" y="836" width="4" height="4" fill="#00ffff"/><rect x="1120" y="840" width="22" height="4" fill="#ff00ff"/><rect x="1160" y="780" width="48" height="2" fill="#00ff00"/><rect x="1160" y="862" width="48" height="2" fill="#00ff00"/><rect x="1206" y="780" width="2" height="84" fill="#00ff00"/><rect x="1160" y="798" width="2" height="66" fill="#00ff00"/><rect x="1160" y="780" width="2" height="18" fill="#00ffff"/><rect x="1164" y="780" width="10" height="10" fill="#00ffff"/><rect x="1164" y="788" width="2" height="2" fill="#212830"/><rect x="1172" y="788" width="2" height="2" fill="#212830"/><rect x="1164" y="852" width="10" height="12" fill="#00ffff"/><rect x="1164" y="852" width="2" height="2" fill="#212830"/><rect x="1172" y="852" width="2" height="2" fill="#212830"/><rect x="1168" y="784" width="2" height="2" fill="#212830"/><rect x="1166" y="786" width="2" height="2" fill="#212830"/><rect x="1170" y="786" width="2" height="2" fill="#212830"/><rect x="1166" y="854" width="2" height="2" fill="#212830"/><rect x="1170" y="854" width="2" height="2" fill="#212830"/><rect x="1168" y="856" width="2" height="2" fill="#212830"/><rect x="1166" y="860" width="6" height="2" fill="#212830"/><rect x="1178" y="780" width="10" height="10" fill="#00ffff"/><rect x="1178" y="788" width="2" height="2" fill="#212830"/><rect x="1186" y="788" width="2" height="2" fill="#212830"/><rect x="1178" y="852" width="10" height="12" fill="#00ffff"/><rect x="1178" y="852" width="2" height="2" fill="#212830"/><rect x="1186" y="852" width="2" height="2" fill="#212830"/><rect x="1182" y="784" width="2" height="2" fill="#212830"/><rect x="1180" y="786" width="2" height="2" fill="#212830"/><rect x="1184" y="786" width="2" height="2" fill="#212830"/><rect x="1180" y="854" width="2" height="2" fill="#212830"/><rect x="1184" y="854" width="2" height="2" fill="#212830"/><rect x="1182" y="856" width="2" height="2" fill="#212830"/><rect x="1180" y="860" width="6" height="2" fill="#212830"/><rect x="1194" y="780" width="10" height="10" fill="#00ffff"/><rect x="1194" y="788" width="2" height="2" fill="#212830"/><rect x="1202" y="788" width="2" height="2" fill="#212830"/><rect x="1194" y="852" width="10" height="12" fill="#00ffff"/><rect x="1194" y="852" width="2" height="2" fill="#212830"/><rect x="1202" y="852" width="2" height="2" fill="#212830"/><rect x="1198" y="784" width="2" height="2" fill="#212830"/><rect x="1196" y="786" width="2" height="2" fill="#212830"/><rect x="1200" y="786" width="2" height="2" fill="#212830"/><rect x="1196" y="854" width="2" height="2" fill="#212830"/><rect x="1200" y="854" width="2" height="2" fill="#212830"/><rect x="1198" y="856" width="2" height="2" fill="#212830"/><rect x="1196" y="860" width="6" height="2" fill="#212830"/><rect x="1160" y="796" width="48" height="2" fill="#00ffff"/><rect x="1160" y="846" width="48" height="2" fill="#00ffff"/><rect x="1176" y="806" width="16" height="2" fill="#00ff00"/><rect x="1176" y="836" width="16" height="2" fill="#00ff00"/><rect x="1176" y="806" width="2" height="32" fill="#00ff00"/><rect x="1190" y="806" width="2" height="32" fill="#00ff00"/><rect x="1180" y="810" width="10" height="24" fill="#00ff00"/><rect x="1182" y="812" width="6" height="20" fill="#212830"/><rect x="1180" y="818" width="10" height="2" fill="#00ffff"/><rect x="1184" y="818" width="2" height="2" fill="#ffff00"/><rect x="1164" y="816" width="8" height="4" fill="#ffff00"/><rect x="1168" y="836" width="4" height="4" fill="#00ffff"/><rect x="1174" y="840" width="22" height="4" fill="#ff00ff"/><rect x="1036" y="964" width="112" height="2" fill="#ffffff"/><rect x="1036" y="978" width="112" height="2" fill="#ffffff"/><rect x="1036" y="964" width="2" height="16" fill="#ffffff"/><rect x="1146" y="964" width="2" height="16" fill="#ffffff"/><rect x="1052" y="966" width="2" height="2" fill="#ffffff"/><rect x="1054" y="966" width="2" height="2" fill="#ffffff"/><rect x="1056" y="966" width="2" height="2" fill="#ffffff"/><rect x="1058" y="966" width="2" height="2" fill="#ffffff"/><rect x="1050" y="968" width="2" height="2" fill="#ffffff"/><rect x="1052" y="968" width="2" height="2" fill="#ffffff"/><rect x="1058" y="968" width="2" height="2" fill="#ffffff"/><rect x="1060" y="968" width="2" height="2" fill="#ffffff"/><rect x="1050" y="970" width="2" height="2" fill="#ffffff"/><rect x="1060" y="970" width="2" height="2" fill="#ffffff"/><rect x="1050" y="972" width="2" height="2" fill="#ffffff"/><rect x="1060" y="972" width="2" height="2" fill="#ffffff"/><rect x="1050" y="974" width="2" height="2" fill="#ffffff"/><rect x="1052" y="974" width="2" height="2" fill="#ffffff"/><rect x="1058" y="974" width="2" height="2" fill="#ffffff"/><rect x="1060" y="974" width="2" height="2" fill="#ffffff"/><rect x="1052" y="976" width="2" height="2" fill="#ffffff"/><rect x="1054" y="976" width="2" height="2" fill="#ffffff"/><rect x="1056" y="976" width="2" height="2" fill="#ffffff"/><rect x="1058" y="976" width="2" height="2" fill="#ffffff"/><rect x="1080" y="966" width="2" height="2" fill="#ffffff"/><rect x="1076" y="968" width="2" height="2" fill="#ffffff"/><rect x="1078" y="968" width="2" height="2" fill="#ffffff"/><rect x="1080" y="968" width="2" height="2" fill="#ffffff"/><rect x="1082" y="968" width="2" height="2" fill="#ffffff"/><rect x="1084" y="968" width="2" height="2" fill="#ffffff"/><rect x="1076" y="970" width="2" height="2" fill="#ffffff"/><rect x="1084" y="970" width="2" height="2" fill="#ffffff"/><rect x="1076" y="972" width="2" height="2" fill="#ffffff"/><rect x="1084" y="972" width="2" height="2" fill="#ffffff"/><rect x="1076" y="974" width="2" height="2" fill="#ffffff"/><rect x="1078" y="974" width="2" height="2" fill="#ffffff"/><rect x="1080" y="974" width="2" height="2" fill="#ffffff"/><rect x="1082" y="974" width="2" height="2" fill="#ffffff"/><rect x="1084" y="974" width="2" height="2" fill="#ffffff"/><rect x="1080" y="976" width="2" height="2" fill="#ffffff"/><rect x="1104" y="966" width="2" height="2" fill="#ffffff"/><rect x="1100" y="968" width="2" height="2" fill="#ffffff"/><rect x="1102" y="968" width="2" height="2" fill="#ffffff"/><rect x="1104" y="968" width="2" height="2" fill="#ffffff"/><rect x="1106" y="968" width="2" height="2" fill="#ffffff"/><rect x="1108" y="968" width="2" height="2" fill="#ffffff"/><rect x="1100" y="970" width="2" height="2" fill="#ffffff"/><rect x="1108" y="970" width="2" height="2" fill="#ffffff"/><rect x="1100" y="972" width="2" height="2" fill="#ffffff"/><rect x="1108" y="972" width="2" height="2" fill="#ffffff"/><rect x="1100" y="974" width="2" height="2" fill="#ffffff"/><rect x="1102" y="974" width="2" height="2" fill="#ffffff"/><rect x="1104" y="974" width="2" height="2" fill="#ffffff"/><rect x="1106" y="974" width="2" height="2" fill="#ffffff"/><rect x="1108" y="974" width="2" height="2" fill="#ffffff"/><rect x="1104" y="976" width="2" height="2" fill="#ffffff"/><rect x="1126" y="966" width="2" height="2" fill="#ffffff"/><rect x="1128" y="966" width="2" height="2" fill="#ffffff"/><rect x="1130" y="966" width="2" height="2" fill="#ffffff"/><rect x="1132" y="966" width="2" height="2" fill="#ffffff"/><rect x="1124" y="968" width="2" height="2" fill="#ffffff"/><rect x="1126" y="968" width="2" height="2" fill="#ffffff"/><rect x="1132" y="968" width="2" height="2" fill="#ffffff"/><rect x="1134" y="968" width="2" height="2" fill="#ffffff"/><rect x="1124" y="970" width="2" height="2" fill="#ffffff"/><rect x="1134" y="970" width="2" height="2" fill="#ffffff"/><rect x="1124" y="972" width="2" height="2" fill="#ffffff"/><rect x="1134" y="972" width="2" height="2" fill="#ffffff"/><rect x="1124" y="974" width="2" height="2" fill="#ffffff"/><rect x="1126" y="974" width="2" height="2" fill="#ffffff"/><rect x="1132" y="974" width="2" height="2" fill="#ffffff"/><rect x="1134" y="974" width="2" height="2" fill="#ffffff"/><rect x="1126" y="976" width="2" height="2" fill="#ffffff"/><rect x="1128" y="976" width="2" height="2" fill="#ffffff"/><rect x="1130" y="976" width="2" height="2" fill="#ffffff"/><rect x="1132" y="976" width="2" height="2" fill="#ffffff"/><rect x="1176" y="964" width="110" height="2" fill="#ffffff"/><rect x="1176" y="980" width="110" height="2" fill="#ffffff"/><rect x="1176" y="964" width="2" height="18" fill="#ffffff"/><rect x="1284" y="964" width="2" height="18" fill="#ffffff"/><rect x="1194" y="966" width="2" height="2" fill="#ffffff"/><rect x="1196" y="966" width="2" height="2" fill="#ffffff"/><rect x="1192" y="968" width="2" height="2" fill="#ffffff"/><rect x="1194" y="968" width="2" height="2" fill="#ffffff"/><rect x="1196" y="968" width="2" height="2" fill="#ffffff"/><rect x="1198" y="968" width="2" height="2" fill="#ffffff"/><rect x="1190" y="970" width="2" height="2" fill="#ffffff"/><rect x="1200" y="970" width="2" height="2" fill="#ffffff"/><rect x="1190" y="972" width="2" height="2" fill="#ffffff"/><rect x="1200" y="972" width="2" height="2" fill="#ffffff"/><rect x="1190" y="974" width="2" height="2" fill="#ffffff"/><rect x="1200" y="974" width="2" height="2" fill="#ffffff"/><rect x="1192" y="976" width="2" height="2" fill="#ffffff"/><rect x="1194" y="976" width="2" height="2" fill="#ffffff"/><rect x="1196" y="976" width="2" height="2" fill="#ffffff"/><rect x="1198" y="976" width="2" height="2" fill="#ffffff"/><rect x="1194" y="978" width="2" height="2" fill="#ffffff"/><rect x="1196" y="978" width="2" height="2" fill="#ffffff"/><rect x="1216" y="968" width="2" height="2" fill="#ffffff"/><rect x="1218" y="968" width="2" height="2" fill="#ffffff"/><rect x="1220" y="968" width="2" height="2" fill="#ffffff"/><rect x="1214" y="970" width="2" height="2" fill="#ffffff"/><rect x="1222" y="970" width="2" height="2" fill="#ffffff"/><rect x="1214" y="972" width="2" height="2" fill="#ffffff"/><rect x="1222" y="972" width="2" height="2" fill="#ffffff"/><rect x="1214" y="974" width="2" height="2" fill="#ffffff"/><rect x="1222" y="974" width="2" height="2" fill="#ffffff"/><rect x="1216" y="976" width="2" height="2" fill="#ffffff"/><rect x="1218" y="976" width="2" height="2" fill="#ffffff"/><rect x="1220" y="976" width="2" height="2" fill="#ffffff"/><rect x="1240" y="970" width="2" height="2" fill="#ffffff"/><rect x="1242" y="970" width="2" height="2" fill="#ffffff"/><rect x="1244" y="970" width="2" height="2" fill="#ffffff"/><rect x="1246" y="970" width="2" height="2" fill="#ffffff"/><rect x="1240" y="972" width="2" height="2" fill="#ffffff"/><rect x="1246" y="972" width="2" height="2" fill="#ffffff"/><rect x="1240" y="974" width="2" height="2" fill="#ffffff"/><rect x="1242" y="974" width="2" height="2" fill="#ffffff"/><rect x="1244" y="974" width="2" height="2" fill="#ffffff"/><rect x="1246" y="974" width="2" height="2" fill="#ffffff"/><rect x="1266" y="966" width="2" height="2" fill="#ffffff"/><rect x="1268" y="966" width="2" height="2" fill="#ffffff"/><rect x="1264" y="968" width="2" height="2" fill="#ffffff"/><rect x="1266" y="968" width="2" height="2" fill="#ffffff"/><rect x="1268" y="968" width="2" height="2" fill="#ffffff"/><rect x="1270" y="968" width="2" height="2" fill="#ffffff"/><rect x="1262" y="970" width="2" height="2" fill="#ffffff"/><rect x="1272" y="970" width="2" height="2" fill="#ffffff"/><rect x="1262" y="972" width="2" height="2" fill="#ffffff"/><rect x="1272" y="972" width="2" height="2" fill="#ffffff"/><rect x="1262" y="974" width="2" height="2" fill="#ffffff"/><rect x="1272" y="974" width="2" height="2" fill="#ffffff"/><rect x="1264" y="976" width="2" height="2" fill="#ffffff"/><rect x="1266" y="976" width="2" height="2" fill="#ffffff"/><rect x="1268" y="976" width="2" height="2" fill="#ffffff"/><rect x="1270" y="976" width="2" height="2" fill="#ffffff"/><rect x="1266" y="978" width="2" height="2" fill="#ffffff"/><rect x="1268" y="978" width="2" height="2" fill="#ffffff"/><rect x="1286" y="544" width="2" height="2" fill="#ffffff"/><rect x="1288" y="544" width="2" height="2" fill="#ffffff"/><rect x="1290" y="544" width="2" height="2" fill="#ffffff"/><rect x="1282" y="546" width="2" height="2" fill="#ffffff"/><rect x="1284" y="546" width="2" height="2" fill="#ffffff"/><rect x="1288" y="546" width="2" height="2" fill="#ffffff"/><rect x="1292" y="546" width="2" height="2" fill="#ffffff"/><rect x="1280" y="548" width="2" height="2" fill="#ffffff"/><rect x="1284" y="548" width="2" height="2" fill="#ffffff"/><rect x="1288" y="548" width="2" height="2" fill="#ffffff"/><rect x="1292" y="548" width="2" height="2" fill="#ffffff"/><rect x="1294" y="548" width="2" height="2" fill="#ffffff"/><rect x="1280" y="550" width="2" height="2" fill="#ffffff"/><rect x="1284" y="550" width="2" height="2" fill="#ffffff"/><rect x="1286" y="550" width="2" height="2" fill="#ffffff"/><rect x="1292" y="550" width="2" height="2" fill="#ffffff"/><rect x="1294" y="550" width="2" height="2" fill="#ffffff"/><rect x="1280" y="552" width="2" height="2" fill="#ffffff"/><rect x="1284" y="552" width="2" height="2" fill="#ffffff"/><rect x="1292" y="552" width="2" height="2" fill="#ffffff"/><rect x="1294" y="552" width="2" height="2" fill="#ffffff"/><rect x="1280" y="554" width="2" height="2" fill="#ffffff"/><rect x="1282" y="554" width="2" height="2" fill="#ffffff"/><rect x="1286" y="554" width="2" height="2" fill="#ffffff"/><rect x="1290" y="554" width="2" height="2" fill="#ffffff"/><rect x="1294" y="554" width="2" height="2" fill="#ffffff"/><rect x="1280" y="556" width="2" height="2" fill="#ffffff"/><rect x="1284" y="556" width="2" height="2" fill="#ffffff"/><rect x="1286" y="556" width="2" height="2" fill="#ffffff"/><rect x="1288" y="556" width="2" height="2" fill="#ffffff"/><rect x="1290" y="556" width="2" height="2" fill="#ffffff"/><rect x="1294" y="556" width="2" height="2" fill="#ffffff"/><rect x="1280" y="558" width="2" height="2" fill="#ffffff"/><rect x="1294" y="558" width="2" height="2" fill="#ffffff"/><rect x="1280" y="560" width="2" height="2" fill="#ffffff"/><rect x="1294" y="560" width="2" height="2" fill="#ffffff"/><rect x="1282" y="562" width="2" height="2" fill="#ffffff"/><rect x="1292" y="562" width="2" height="2" fill="#ffffff"/><rect x="1282" y="564" width="2" height="2" fill="#ffffff"/><rect x="1292" y="564" width="2" height="2" fill="#ffffff"/><rect x="1282" y="566" width="2" height="2" fill="#ffffff"/><rect x="1292" y="566" width="2" height="2" fill="#ffffff"/><rect x="1282" y="568" width="2" height="2" fill="#ffffff"/><rect x="1292" y="568" width="2" height="2" fill="#ffffff"/><rect x="1282" y="570" width="2" height="2" fill="#ffffff"/><rect x="1292" y="570" width="2" height="2" fill="#ffffff"/><rect x="1282" y="572" width="2" height="2" fill="#ffffff"/><rect x="1292" y="572" width="2" height="2" fill="#ffffff"/><rect x="1284" y="574" width="2" height="2" fill="#ffffff"/><rect x="1290" y="574" width="2" height="2" fill="#ffffff"/><rect x="1284" y="576" width="2" height="2" fill="#ffffff"/><rect x="1290" y="576" width="2" height="2" fill="#ffffff"/><rect x="1284" y="578" width="2" height="2" fill="#ffffff"/><rect x="1290" y="578" width="2" height="2" fill="#ffffff"/><rect x="1284" y="580" width="2" height="2" fill="#ffffff"/><rect x="1290" y="580" width="2" height="2" fill="#ffffff"/><rect x="1284" y="582" width="2" height="2" fill="#ffffff"/><rect x="1286" y="582" width="2" height="2" fill="#ffffff"/><rect x="1288" y="582" width="2" height="2" fill="#ffffff"/><rect x="1290" y="582" width="2" height="2" fill="#ffffff"/><path d="M222 422h2v2h-2zM230 422h2v2h-2zM216 424h20v2h-20zM216 426h22v2h-22zM222 428h2v2h-2zM230 428h2v2h-2zM218 430h2v2h-2zM222 430h2v2h-2zM226 430h2v2h-2zM230 430h2v2h-2zM218 432h4v2h-4zM226 432h10v2h-10zM220 434h2v2h-2zM224 434h12v2h-12zM224 436h4v2h-4zM232 436h2v2h-2zM216 438h2v2h-2zM222 438h8v2h-8zM232 438h2v2h-2zM216 440h4v2h-4zM228 440h4v2h-4zM218 442h4v2h-4zM228 442h6v2h-6zM226 444h2v2h-2zM232 444h4v2h-4zM222 446h4v2h-4zM234 446h4v2h-4zM220 448h2v2h-2zM224 448h12v2h-12zM220 450h2v2h-2zM224 450h2v2h-2zM234 450h2v2h-2zM218 452h2v2h-2zM224 452h2v2h-2zM234 452h2v2h-2zM218 454h2v2h-2zM224 454h2v2h-2zM234 454h2v2h-2zM216 456h4v2h-4zM224 456h12v2h-12zM216 458h2v2h-2zM224 458h2v2h-2zM234 458h2v2h-2z" fill="#ff0000"/><path d="M246 422h2v2h-2zM258 422h2v2h-2zM246 424h2v2h-2zM258 424h2v2h-2zM246 426h2v2h-2zM252 426h2v2h-2zM258 426h2v2h-2zM246 428h2v2h-2zM252 428h2v2h-2zM258 428h2v2h-2zM246 430h2v2h-2zM252 430h2v2h-2zM258 430h2v2h-2zM262 430h4v2h-4zM242 432h8v2h-8zM252 432h2v2h-2zM258 432h8v2h-8zM242 434h8v2h-8zM252 434h2v2h-2zM256 434h4v2h-4zM264 434h2v2h-2zM246 436h2v2h-2zM252 436h8v2h-8zM264 436h2v2h-2zM246 438h2v2h-2zM250 438h4v2h-4zM258 438h2v2h-2zM264 438h2v2h-2zM246 440h2v2h-2zM250 440h4v2h-4zM258 440h2v2h-2zM264 440h2v2h-2zM246 442h2v2h-2zM252 442h2v2h-2zM258 442h2v2h-2zM262 442h4v2h-4zM246 444h2v2h-2zM252 444h2v2h-2zM258 444h2v2h-2zM262 444h4v2h-4zM246 446h4v2h-4zM252 446h2v2h-2zM258 446h2v2h-2zM262 446h4v2h-4zM244 448h6v2h-6zM252 448h2v2h-2zM258 448h6v2h-6zM242 450h4v2h-4zM252 450h2v2h-2zM258 450h2v2h-2zM242 452h2v2h-2zM252 452h2v2h-2zM264 452h2v2h-2zM252 454h2v2h-2zM264 454h2v2h-2zM252 456h2v2h-2zM264 456h2v2h-2zM252 458h14v2h-14z" fill="#ff0000"/><path d="M282 422h2v2h-2zM286 422h2v2h-2zM282 424h2v2h-2zM286 424h2v2h-2zM282 426h2v2h-2zM288 426h2v2h-2zM282 428h2v2h-2zM268 430h24v2h-24zM282 432h2v2h-2zM282 434h2v2h-2zM282 436h2v2h-2zM270 438h10v2h-10zM282 438h2v2h-2zM268 440h12v2h-12zM282 440h2v2h-2zM274 442h2v2h-2zM282 442h2v2h-2zM274 444h2v2h-2zM282 444h4v2h-4zM274 446h2v2h-2zM282 446h4v2h-4zM274 448h2v2h-2zM284 448h2v2h-2zM274 450h2v2h-2zM284 450h2v2h-2zM290 450h2v2h-2zM274 452h8v2h-8zM284 452h2v2h-2zM290 452h2v2h-2zM272 454h8v2h-8zM284 454h4v2h-4zM290 454h2v2h-2zM268 456h6v2h-6zM286 456h2v2h-2zM290 456h2v2h-2zM286 458h6v2h-6z" fill="#ff0000"/><rect x="306" y="422" width="2" height="2" fill="#ff0000"/><rect x="304" y="424" width="2" height="2" fill="#ff0000"/><rect x="302" y="426" width="2" height="2" fill="#ff0000"/><rect x="302" y="428" width="2" height="2" fill="#ff0000"/><rect x="300" y="430" width="2" height="2" fill="#ff0000"/><rect x="300" y="432" width="2" height="2" fill="#ff0000"/><rect x="298" y="434" width="2" height="2" fill="#ff0000"/><rect x="298" y="436" width="2" height="2" fill="#ff0000"/><rect x="298" y="438" width="2" height="2" fill="#ff0000"/><rect x="298" y="440" width="2" height="2" fill="#ff0000"/><rect x="298" y="442" width="2" height="2" fill="#ff0000"/><rect x="298" y="444" width="2" height="2" fill="#ff0000"/><rect x="298" y="446" width="2" height="2" fill="#ff0000"/><rect x="300" y="448" width="2" height="2" fill="#ff0000"/><rect x="300" y="450" width="2" height="2" fill="#ff0000"/><rect x="302" y="452" width="2" height="2" fill="#ff0000"/><rect x="302" y="454" width="2" height="2" fill="#ff0000"/><rect x="304" y="456" width="2" height="2" fill="#ff0000"/><rect x="306" y="458" width="2" height="2" fill="#ff0000"/><path d="M328 422h2v2h-2zM328 424h2v2h-2zM328 426h2v2h-2zM320 428h18v2h-18zM320 430h18v2h-18zM320 432h2v2h-2zM336 432h2v2h-2zM320 434h2v2h-2zM336 434h2v2h-2zM320 436h2v2h-2zM336 436h2v2h-2zM320 438h2v2h-2zM336 438h2v2h-2zM320 440h18v2h-18zM320 442h2v2h-2zM336 442h2v2h-2zM320 444h2v2h-2zM336 444h2v2h-2zM320 446h2v2h-2zM318 448h4v2h-4zM318 450h2v2h-2zM318 452h2v2h-2zM318 454h2v2h-2zM316 456h4v2h-4zM316 458h2v2h-2z" fill="#ff0000"/><path d="M346 422h2v2h-2zM356 422h2v2h-2zM344 424h4v2h-4zM356 424h2v2h-2zM344 426h2v2h-2zM356 426h2v2h-2zM344 428h10v2h-10zM356 428h2v2h-2zM344 430h10v2h-10zM356 430h2v2h-2zM342 432h4v2h-4zM350 432h4v2h-4zM356 432h2v2h-2zM342 434h2v2h-2zM350 434h4v2h-4zM356 434h4v2h-4zM342 436h2v2h-2zM350 436h2v2h-2zM356 436h4v2h-4zM340 438h6v2h-6zM350 438h2v2h-2zM356 438h2v2h-2zM360 438h2v2h-2zM340 440h2v2h-2zM344 440h4v2h-4zM350 440h2v2h-2zM356 440h2v2h-2zM362 440h2v2h-2zM346 442h6v2h-6zM356 442h2v2h-2zM362 442h4v2h-4zM348 444h2v2h-2zM356 444h2v2h-2zM364 444h2v2h-2zM348 446h2v2h-2zM356 446h2v2h-2zM346 448h4v2h-4zM356 448h2v2h-2zM346 450h2v2h-2zM356 450h2v2h-2zM344 452h4v2h-4zM356 452h2v2h-2zM342 454h4v2h-4zM356 454h2v2h-2zM340 456h4v2h-4zM356 456h2v2h-2zM340 458h2v2h-2zM356 458h2v2h-2z" fill="#ff0000"/><rect x="370" y="422" width="2" height="2" fill="#ff0000"/><rect x="372" y="424" width="2" height="2" fill="#ff0000"/><rect x="374" y="426" width="2" height="2" fill="#ff0000"/><rect x="374" y="428" width="2" height="2" fill="#ff0000"/><rect x="376" y="430" width="2" height="2" fill="#ff0000"/><rect x="376" y="432" width="2" height="2" fill="#ff0000"/><rect x="378" y="434" width="2" height="2" fill="#ff0000"/><rect x="378" y="436" width="2" height="2" fill="#ff0000"/><rect x="378" y="438" width="2" height="2" fill="#ff0000"/><rect x="378" y="440" width="2" height="2" fill="#ff0000"/><rect x="378" y="442" width="2" height="2" fill="#ff0000"/><rect x="378" y="444" width="2" height="2" fill="#ff0000"/><rect x="378" y="446" width="2" height="2" fill="#ff0000"/><rect x="376" y="448" width="2" height="2" fill="#ff0000"/><rect x="376" y="450" width="2" height="2" fill="#ff0000"/><rect x="374" y="452" width="2" height="2" fill="#ff0000"/><rect x="374" y="454" width="2" height="2" fill="#ff0000"/><rect x="372" y="456" width="2" height="2" fill="#ff0000"/><rect x="370" y="458" width="2" height="2" fill="#ff0000"/><path d="M258 740h24v2h-24zM264 742h2v2h-2zM274 742h2v2h-2zM264 744h2v2h-2zM274 744h2v2h-2zM264 746h2v2h-2zM274 746h2v2h-2zM264 748h2v2h-2zM274 748h2v2h-2zM264 750h2v2h-2zM274 750h2v2h-2zM264 752h2v2h-2zM274 752h2v2h-2zM258 754h24v2h-24zM264 756h2v2h-2zM274 756h2v2h-2zM264 758h2v2h-2zM274 758h2v2h-2zM264 760h2v2h-2zM274 760h2v2h-2zM262 762h4v2h-4zM274 762h2v2h-2zM262 764h2v2h-2zM274 764h2v2h-2zM262 766h2v2h-2zM274 766h2v2h-2zM260 768h2v2h-2zM274 768h2v2h-2zM258 770h2v2h-2zM274 770h2v2h-2z" fill="#ffffff"/><path d="M302 736h2v2h-2zM290 738h2v2h-2zM302 738h2v2h-2zM290 740h2v2h-2zM302 740h2v2h-2zM292 742h2v2h-2zM300 742h2v2h-2zM286 744h22v2h-22zM296 746h2v2h-2zM296 748h2v2h-2zM296 750h2v2h-2zM296 752h2v2h-2zM284 754h26v2h-26zM294 756h6v2h-6zM294 758h6v2h-6zM294 760h2v2h-2zM298 760h2v2h-2zM292 762h4v2h-4zM300 762h2v2h-2zM292 764h2v2h-2zM300 764h4v2h-4zM288 766h4v2h-4zM302 766h4v2h-4zM286 768h4v2h-4zM304 768h4v2h-4zM284 770h4v2h-4zM308 770h2v2h-2z" fill="#ffffff"/><path d="M316 744h20v2h-20zM316 746h2v2h-2zM324 746h4v2h-4zM334 746h2v2h-2zM316 748h2v2h-2zM324 748h2v2h-2zM334 748h2v2h-2zM316 750h2v2h-2zM324 750h2v2h-2zM334 750h2v2h-2zM316 752h2v2h-2zM324 752h4v2h-4zM334 752h2v2h-2zM316 754h2v2h-2zM324 754h4v2h-4zM334 754h2v2h-2zM316 756h2v2h-2zM322 756h2v2h-2zM328 756h2v2h-2zM334 756h2v2h-2zM316 758h2v2h-2zM322 758h2v2h-2zM330 758h2v2h-2zM334 758h2v2h-2zM316 760h2v2h-2zM320 760h2v2h-2zM330 760h2v2h-2zM334 760h2v2h-2zM316 762h4v2h-4zM332 762h4v2h-4zM316 764h2v2h-2zM334 764h2v2h-2zM316 766h2v2h-2zM334 766h2v2h-2zM316 768h2v2h-2zM334 768h2v2h-2zM316 770h2v2h-2zM330 770h6v2h-6z" fill="#ffffff"/><path d="M346 736h2v2h-2zM356 736h2v2h-2zM346 738h2v2h-2zM356 738h2v2h-2zM342 740h2v2h-2zM346 740h2v2h-2zM356 740h2v2h-2zM344 742h4v2h-4zM350 742h16v2h-16zM346 744h2v2h-2zM356 744h2v2h-2zM344 746h4v2h-4zM356 746h2v2h-2zM342 748h6v2h-6zM356 748h2v2h-2zM340 750h2v2h-2zM346 750h2v2h-2zM350 750h14v2h-14zM346 752h2v2h-2zM352 752h2v2h-2zM352 754h2v2h-2zM342 756h24v2h-24zM342 758h22v2h-22zM348 760h4v2h-4zM354 760h2v2h-2zM362 760h2v2h-2zM344 762h4v2h-4zM354 762h2v2h-2zM358 762h4v2h-4zM340 764h8v2h-8zM356 764h4v2h-4zM346 766h2v2h-2zM358 766h2v2h-2zM346 768h8v2h-8zM360 768h4v2h-4zM346 770h2v2h-2zM364 770h2v2h-2z" fill="#ffffff"/><path d="M1116 204h2v2h-2zM1124 204h2v2h-2zM1116 206h2v2h-2zM1124 206h2v2h-2zM1110 208h22v2h-22zM1116 210h2v2h-2zM1124 210h2v2h-2zM1116 212h2v2h-2zM1124 212h2v2h-2zM1112 214h2v2h-2zM1120 214h2v2h-2zM1114 216h2v2h-2zM1120 216h10v2h-10zM1118 218h4v2h-4zM1128 218h2v2h-2zM1118 220h4v2h-4zM1126 220h2v2h-2zM1110 222h2v2h-2zM1116 222h2v2h-2zM1122 222h4v2h-4zM1112 224h2v2h-2zM1122 224h4v2h-4zM1122 226h6v2h-6zM1118 228h4v2h-4zM1126 228h4v2h-4zM1116 230h16v2h-16zM1114 232h2v2h-2zM1118 232h12v2h-12zM1114 234h2v2h-2zM1118 234h2v2h-2zM1128 234h2v2h-2zM1112 236h2v2h-2zM1118 236h2v2h-2zM1128 236h2v2h-2zM1112 238h2v2h-2zM1118 238h2v2h-2zM1128 238h2v2h-2zM1110 240h2v2h-2zM1118 240h12v2h-12zM1118 242h2v2h-2zM1128 242h2v2h-2z" fill="#ffffff"/><path d="M1152 204h2v2h-2zM1140 206h2v2h-2zM1152 206h2v2h-2zM1140 208h2v2h-2zM1146 208h2v2h-2zM1152 208h2v2h-2zM1140 210h2v2h-2zM1146 210h2v2h-2zM1152 210h2v2h-2zM1140 212h2v2h-2zM1146 212h2v2h-2zM1152 212h2v2h-2zM1156 212h4v2h-4zM1136 214h8v2h-8zM1146 214h2v2h-2zM1152 214h8v2h-8zM1136 216h8v2h-8zM1146 216h2v2h-2zM1152 216h2v2h-2zM1158 216h2v2h-2zM1140 218h2v2h-2zM1146 218h8v2h-8zM1158 218h2v2h-2zM1140 220h2v2h-2zM1146 220h4v2h-4zM1152 220h2v2h-2zM1158 220h2v2h-2zM1140 222h2v2h-2zM1144 222h4v2h-4zM1152 222h2v2h-2zM1158 222h2v2h-2zM1140 224h2v2h-2zM1146 224h2v2h-2zM1152 224h2v2h-2zM1140 226h2v2h-2zM1146 226h2v2h-2zM1152 226h2v2h-2zM1140 228h2v2h-2zM1146 228h2v2h-2zM1152 228h2v2h-2zM1140 230h4v2h-4zM1146 230h2v2h-2zM1152 230h2v2h-2zM1156 230h2v2h-2zM1138 232h4v2h-4zM1146 232h2v2h-2zM1152 232h6v2h-6zM1136 234h4v2h-4zM1146 234h2v2h-2zM1146 236h2v2h-2zM1158 236h2v2h-2zM1146 238h2v2h-2zM1158 238h2v2h-2zM1146 240h2v2h-2zM1158 240h2v2h-2zM1146 242h12v2h-12z" fill="#ffffff"/><path d="M1176 204h2v2h-2zM1176 206h2v2h-2zM1180 206h2v2h-2zM1176 208h2v2h-2zM1182 208h2v2h-2zM1176 210h2v2h-2zM1162 212h24v2h-24zM1176 214h2v2h-2zM1176 216h2v2h-2zM1176 218h2v2h-2zM1176 220h2v2h-2zM1162 222h12v2h-12zM1176 222h2v2h-2zM1168 224h2v2h-2zM1176 224h2v2h-2zM1168 226h2v2h-2zM1176 226h2v2h-2zM1168 228h2v2h-2zM1168 230h2v2h-2zM1178 230h2v2h-2zM1168 232h2v2h-2zM1178 232h2v2h-2zM1168 234h2v2h-2zM1178 234h2v2h-2zM1184 234h2v2h-2zM1168 236h8v2h-8zM1178 236h2v2h-2zM1184 236h2v2h-2zM1166 238h6v2h-6zM1180 238h2v2h-2zM1184 238h2v2h-2zM1162 240h6v2h-6zM1180 240h2v2h-2zM1184 240h2v2h-2zM1182 242h4v2h-4z" fill="#ffffff"/><rect x="1200" y="204" width="2" height="2" fill="#ffffff"/><rect x="1198" y="206" width="2" height="2" fill="#ffffff"/><rect x="1196" y="208" width="2" height="2" fill="#ffffff"/><rect x="1196" y="210" width="2" height="2" fill="#ffffff"/><rect x="1194" y="212" width="2" height="2" fill="#ffffff"/><rect x="1194" y="214" width="2" height="2" fill="#ffffff"/><rect x="1194" y="216" width="2" height="2" fill="#ffffff"/><rect x="1192" y="218" width="2" height="2" fill="#ffffff"/><rect x="1192" y="220" width="2" height="2" fill="#ffffff"/><rect x="1192" y="222" width="2" height="2" fill="#ffffff"/><rect x="1192" y="224" width="2" height="2" fill="#ffffff"/><rect x="1192" y="226" width="2" height="2" fill="#ffffff"/><rect x="1192" y="228" width="2" height="2" fill="#ffffff"/><rect x="1194" y="230" width="2" height="2" fill="#ffffff"/><rect x="1194" y="232" width="2" height="2" fill="#ffffff"/><rect x="1194" y="234" width="2" height="2" fill="#ffffff"/><rect x="1196" y="236" width="2" height="2" fill="#ffffff"/><rect x="1196" y="238" width="2" height="2" fill="#ffffff"/><rect x="1198" y="240" width="2" height="2" fill="#ffffff"/><rect x="1200" y="242" width="2" height="2" fill="#ffffff"/><path d="M1222 204h2v2h-2zM1222 206h2v2h-2zM1222 208h2v2h-2zM1214 210h18v2h-18zM1214 212h18v2h-18zM1214 214h2v2h-2zM1230 214h2v2h-2zM1214 216h2v2h-2zM1230 216h2v2h-2zM1214 218h2v2h-2zM1230 218h2v2h-2zM1214 220h2v2h-2zM1230 220h2v2h-2zM1214 222h18v2h-18zM1214 224h18v2h-18zM1214 226h2v2h-2zM1230 226h2v2h-2zM1214 228h2v2h-2zM1214 230h2v2h-2zM1212 232h2v2h-2zM1212 234h2v2h-2zM1212 236h2v2h-2zM1212 238h2v2h-2zM1210 240h2v2h-2zM1210 242h2v2h-2z" fill="#ffffff"/><path d="M1240 204h2v2h-2zM1250 204h2v2h-2zM1240 206h2v2h-2zM1250 206h2v2h-2zM1238 208h2v2h-2zM1250 208h2v2h-2zM1238 210h8v2h-8zM1250 210h2v2h-2zM1238 212h10v2h-10zM1250 212h2v2h-2zM1238 214h2v2h-2zM1246 214h2v2h-2zM1250 214h2v2h-2zM1236 216h2v2h-2zM1244 216h2v2h-2zM1250 216h2v2h-2zM1236 218h2v2h-2zM1244 218h2v2h-2zM1250 218h4v2h-4zM1236 220h2v2h-2zM1244 220h2v2h-2zM1250 220h2v2h-2zM1254 220h2v2h-2zM1234 222h2v2h-2zM1238 222h2v2h-2zM1244 222h2v2h-2zM1250 222h2v2h-2zM1254 222h4v2h-4zM1240 224h2v2h-2zM1244 224h2v2h-2zM1250 224h2v2h-2zM1256 224h2v2h-2zM1242 226h2v2h-2zM1250 226h2v2h-2zM1258 226h2v2h-2zM1242 228h2v2h-2zM1250 228h2v2h-2zM1242 230h2v2h-2zM1250 230h2v2h-2zM1240 232h2v2h-2zM1250 232h2v2h-2zM1240 234h2v2h-2zM1250 234h2v2h-2zM1238 236h2v2h-2zM1250 236h2v2h-2zM1236 238h4v2h-4zM1250 238h2v2h-2zM1234 240h4v2h-4zM1250 240h2v2h-2zM1234 242h2v2h-2zM1250 242h2v2h-2z" fill="#ffffff"/><rect x="1264" y="204" width="2" height="2" fill="#ffffff"/><rect x="1266" y="206" width="2" height="2" fill="#ffffff"/><rect x="1268" y="208" width="2" height="2" fill="#ffffff"/><rect x="1268" y="210" width="2" height="2" fill="#ffffff"/><rect x="1270" y="212" width="2" height="2" fill="#ffffff"/><rect x="1270" y="214" width="2" height="2" fill="#ffffff"/><rect x="1270" y="216" width="2" height="2" fill="#ffffff"/><rect x="1272" y="218" width="2" height="2" fill="#ffffff"/><rect x="1272" y="220" width="2" height="2" fill="#ffffff"/><rect x="1272" y="222" width="2" height="2" fill="#ffffff"/><rect x="1272" y="224" width="2" height="2" fill="#ffffff"/><rect x="1272" y="226" width="2" height="2" fill="#ffffff"/><rect x="1272" y="228" width="2" height="2" fill="#ffffff"/><rect x="1270" y="230" width="2" height="2" fill="#ffffff"/><rect x="1270" y="232" width="2" height="2" fill="#ffffff"/><rect x="1270" y="234" width="2" height="2" fill="#ffffff"/><rect x="1268" y="236" width="2" height="2" fill="#ffffff"/><rect x="1268" y="238" width="2" height="2" fill="#ffffff"/><rect x="1266" y="240" width="2" height="2" fill="#ffffff"/><rect x="1264" y="242" width="2" height="2" fill="#ffffff"/><path d="M1120 560h24v2h-24zM1126 562h2v2h-2zM1136 562h2v2h-2zM1126 564h2v2h-2zM1136 564h2v2h-2zM1126 566h2v2h-2zM1136 566h2v2h-2zM1126 568h2v2h-2zM1136 568h2v2h-2zM1126 570h2v2h-2zM1136 570h2v2h-2zM1126 572h2v2h-2zM1136 572h2v2h-2zM1120 574h24v2h-24zM1126 576h2v2h-2zM1136 576h2v2h-2zM1126 578h2v2h-2zM1136 578h2v2h-2zM1126 580h2v2h-2zM1136 580h2v2h-2zM1126 582h2v2h-2zM1136 582h2v2h-2zM1124 584h2v2h-2zM1136 584h2v2h-2zM1124 586h2v2h-2zM1136 586h2v2h-2zM1122 588h4v2h-4zM1136 588h2v2h-2zM1122 590h2v2h-2zM1136 590h2v2h-2zM1120 592h2v2h-2zM1136 592h2v2h-2z" fill="#ffffff"/><path d="M1164 558h2v2h-2zM1152 560h2v2h-2zM1164 560h2v2h-2zM1152 562h2v2h-2zM1164 562h2v2h-2zM1154 564h2v2h-2zM1162 564h2v2h-2zM1148 566h22v2h-22zM1158 568h2v2h-2zM1158 570h2v2h-2zM1158 572h2v2h-2zM1158 574h2v2h-2zM1146 576h26v2h-26zM1156 578h6v2h-6zM1156 580h6v2h-6zM1156 582h2v2h-2zM1160 582h2v2h-2zM1154 584h4v2h-4zM1162 584h2v2h-2zM1154 586h2v2h-2zM1162 586h4v2h-4zM1150 588h4v2h-4zM1164 588h4v2h-4zM1148 590h4v2h-4zM1166 590h4v2h-4zM1146 592h4v2h-4zM1170 592h2v2h-2z" fill="#ffffff"/><path d="M1178 566h20v2h-20zM1178 568h2v2h-2zM1186 568h4v2h-4zM1196 568h2v2h-2zM1178 570h2v2h-2zM1186 570h2v2h-2zM1196 570h2v2h-2zM1178 572h2v2h-2zM1186 572h2v2h-2zM1196 572h2v2h-2zM1178 574h2v2h-2zM1186 574h4v2h-4zM1196 574h2v2h-2zM1178 576h2v2h-2zM1186 576h4v2h-4zM1196 576h2v2h-2zM1178 578h2v2h-2zM1184 578h2v2h-2zM1190 578h2v2h-2zM1196 578h2v2h-2zM1178 580h2v2h-2zM1184 580h2v2h-2zM1192 580h2v2h-2zM1196 580h2v2h-2zM1178 582h2v2h-2zM1182 582h2v2h-2zM1192 582h2v2h-2zM1196 582h2v2h-2zM1178 584h4v2h-4zM1194 584h4v2h-4zM1178 586h2v2h-2zM1196 586h2v2h-2zM1178 588h2v2h-2zM1196 588h2v2h-2zM1178 590h2v2h-2zM1196 590h2v2h-2zM1178 592h2v2h-2zM1192 592h6v2h-6z" fill="#ffffff"/><path d="M1208 558h2v2h-2zM1218 558h2v2h-2zM1208 560h2v2h-2zM1218 560h2v2h-2zM1204 562h2v2h-2zM1208 562h2v2h-2zM1218 562h2v2h-2zM1206 564h4v2h-4zM1212 564h16v2h-16zM1208 566h2v2h-2zM1218 566h2v2h-2zM1206 568h4v2h-4zM1218 568h2v2h-2zM1204 570h6v2h-6zM1218 570h2v2h-2zM1202 572h2v2h-2zM1208 572h2v2h-2zM1212 572h14v2h-14zM1208 574h2v2h-2zM1214 574h2v2h-2zM1214 576h2v2h-2zM1204 578h24v2h-24zM1204 580h22v2h-22zM1210 582h4v2h-4zM1216 582h2v2h-2zM1224 582h2v2h-2zM1206 584h4v2h-4zM1216 584h2v2h-2zM1220 584h4v2h-4zM1202 586h8v2h-8zM1218 586h4v2h-4zM1208 588h2v2h-2zM1220 588h2v2h-2zM1208 590h8v2h-8zM1222 590h4v2h-4zM1208 592h2v2h-2zM1226 592h2v2h-2z" fill="#ffffff"/><rect x="350" y="590" width="2" height="2" fill="#ffffff"/><rect x="356" y="590" width="2" height="2" fill="#ffffff"/><rect x="350" y="592" width="2" height="2" fill="#ffffff"/><rect x="352" y="592" width="2" height="2" fill="#ffffff"/><rect x="356" y="592" width="2" height="2" fill="#ffffff"/><rect x="350" y="594" width="2" height="2" fill="#ffffff"/><rect x="354" y="594" width="2" height="2" fill="#ffffff"/><rect x="356" y="594" width="2" height="2" fill="#ffffff"/><rect x="350" y="596" width="2" height="2" fill="#ffffff"/><rect x="354" y="596" width="2" height="2" fill="#ffffff"/><rect x="356" y="596" width="2" height="2" fill="#ffffff"/><rect x="350" y="598" width="2" height="2" fill="#ffffff"/><rect x="356" y="598" width="2" height="2" fill="#ffffff"/><rect x="350" y="600" width="2" height="2" fill="#ffffff"/><rect x="356" y="600" width="2" height="2" fill="#ffffff"/><rect x="244" y="1148" width="2" height="2" fill="#ffffff"/><rect x="246" y="1148" width="2" height="2" fill="#ffffff"/><rect x="254" y="1148" width="2" height="2" fill="#ffffff"/><rect x="244" y="1150" width="2" height="2" fill="#ffffff"/><rect x="246" y="1150" width="2" height="2" fill="#ffffff"/><rect x="254" y="1150" width="2" height="2" fill="#ffffff"/><rect x="244" y="1152" width="2" height="2" fill="#ffffff"/><rect x="248" y="1152" width="2" height="2" fill="#ffffff"/><rect x="254" y="1152" width="2" height="2" fill="#ffffff"/><rect x="244" y="1154" width="2" height="2" fill="#ffffff"/><rect x="248" y="1154" width="2" height="2" fill="#ffffff"/><rect x="254" y="1154" width="2" height="2" fill="#ffffff"/><rect x="244" y="1156" width="2" height="2" fill="#ffffff"/><rect x="250" y="1156" width="2" height="2" fill="#ffffff"/><rect x="254" y="1156" width="2" height="2" fill="#ffffff"/><rect x="244" y="1158" width="2" height="2" fill="#ffffff"/><rect x="250" y="1158" width="2" height="2" fill="#ffffff"/><rect x="254" y="1158" width="2" height="2" fill="#ffffff"/><rect x="244" y="1160" width="2" height="2" fill="#ffffff"/><rect x="252" y="1160" width="2" height="2" fill="#ffffff"/><rect x="254" y="1160" width="2" height="2" fill="#ffffff"/><rect x="244" y="1162" width="2" height="2" fill="#ffffff"/><rect x="252" y="1162" width="2" height="2" fill="#ffffff"/><rect x="254" y="1162" width="2" height="2" fill="#ffffff"/><rect x="244" y="1164" width="2" height="2" fill="#ffffff"/><rect x="254" y="1164" width="2" height="2" fill="#ffffff"/><rect x="418" y="1148" width="2" height="2" fill="#ffffff"/><rect x="420" y="1148" width="2" height="2" fill="#ffffff"/><rect x="422" y="1148" width="2" height="2" fill="#ffffff"/><rect x="424" y="1148" width="2" height="2" fill="#ffffff"/><rect x="418" y="1150" width="2" height="2" fill="#ffffff"/><rect x="426" y="1150" width="2" height="2" fill="#ffffff"/><rect x="418" y="1152" width="2" height="2" fill="#ffffff"/><rect x="426" y="1152" width="2" height="2" fill="#ffffff"/><rect x="418" y="1154" width="2" height="2" fill="#ffffff"/><rect x="426" y="1154" width="2" height="2" fill="#ffffff"/><rect x="418" y="1156" width="2" height="2" fill="#ffffff"/><rect x="420" y="1156" width="2" height="2" fill="#ffffff"/><rect x="422" y="1156" width="2" height="2" fill="#ffffff"/><rect x="424" y="1156" width="2" height="2" fill="#ffffff"/><rect x="418" y="1158" width="2" height="2" fill="#ffffff"/><rect x="418" y="1160" width="2" height="2" fill="#ffffff"/><rect x="418" y="1162" width="2" height="2" fill="#ffffff"/><rect x="418" y="1164" width="2" height="2" fill="#ffffff"/><rect x="418" y="1166" width="2" height="2" fill="#ffffff"/><rect x="432" y="1148" width="2" height="2" fill="#ffffff"/><rect x="434" y="1148" width="2" height="2" fill="#ffffff"/><rect x="436" y="1148" width="2" height="2" fill="#ffffff"/><rect x="438" y="1148" width="2" height="2" fill="#ffffff"/><rect x="440" y="1148" width="2" height="2" fill="#ffffff"/><rect x="432" y="1150" width="2" height="2" fill="#ffffff"/><rect x="432" y="1152" width="2" height="2" fill="#ffffff"/><rect x="432" y="1154" width="2" height="2" fill="#ffffff"/><rect x="432" y="1156" width="2" height="2" fill="#ffffff"/><rect x="434" y="1156" width="2" height="2" fill="#ffffff"/><rect x="436" y="1156" width="2" height="2" fill="#ffffff"/><rect x="438" y="1156" width="2" height="2" fill="#ffffff"/><rect x="432" y="1158" width="2" height="2" fill="#ffffff"/><rect x="432" y="1160" width="2" height="2" fill="#ffffff"/><rect x="432" y="1162" width="2" height="2" fill="#ffffff"/><rect x="432" y="1164" width="2" height="2" fill="#ffffff"/><rect x="432" y="1166" width="2" height="2" fill="#ffffff"/><rect x="434" y="1166" width="2" height="2" fill="#ffffff"/><rect x="436" y="1166" width="2" height="2" fill="#ffffff"/><rect x="438" y="1166" width="2" height="2" fill="#ffffff"/><rect x="440" y="1166" width="2" height="2" fill="#ffffff"/><rect x="1154" y="964" width="2" height="2" fill="#ffffff"/><rect x="1156" y="964" width="2" height="2" fill="#ffffff"/><rect x="1164" y="964" width="2" height="2" fill="#ffffff"/><rect x="1154" y="966" width="2" height="2" fill="#ffffff"/><rect x="1156" y="966" width="2" height="2" fill="#ffffff"/><rect x="1164" y="966" width="2" height="2" fill="#ffffff"/><rect x="1154" y="968" width="2" height="2" fill="#ffffff"/><rect x="1158" y="968" width="2" height="2" fill="#ffffff"/><rect x="1164" y="968" width="2" height="2" fill="#ffffff"/><rect x="1154" y="970" width="2" height="2" fill="#ffffff"/><rect x="1158" y="970" width="2" height="2" fill="#ffffff"/><rect x="1164" y="970" width="2" height="2" fill="#ffffff"/><rect x="1154" y="972" width="2" height="2" fill="#ffffff"/><rect x="1160" y="972" width="2" height="2" fill="#ffffff"/><rect x="1164" y="972" width="2" height="2" fill="#ffffff"/><rect x="1154" y="974" width="2" height="2" fill="#ffffff"/><rect x="1160" y="974" width="2" height="2" fill="#ffffff"/><rect x="1164" y="974" width="2" height="2" fill="#ffffff"/><rect x="1154" y="976" width="2" height="2" fill="#ffffff"/><rect x="1162" y="976" width="2" height="2" fill="#ffffff"/><rect x="1164" y="976" width="2" height="2" fill="#ffffff"/><rect x="1154" y="978" width="2" height="2" fill="#ffffff"/><rect x="1162" y="978" width="2" height="2" fill="#ffffff"/><rect x="1164" y="978" width="2" height="2" fill="#ffffff"/><rect x="1154" y="980" width="2" height="2" fill="#ffffff"/><rect x="1164" y="980" width="2" height="2" fill="#ffffff"/><rect x="1288" y="964" width="2" height="2" fill="#ffffff"/><rect x="1290" y="964" width="2" height="2" fill="#ffffff"/><rect x="1292" y="964" width="2" height="2" fill="#ffffff"/><rect x="1294" y="964" width="2" height="2" fill="#ffffff"/><rect x="1288" y="966" width="2" height="2" fill="#ffffff"/><rect x="1296" y="966" width="2" height="2" fill="#ffffff"/><rect x="1288" y="968" width="2" height="2" fill="#ffffff"/><rect x="1296" y="968" width="2" height="2" fill="#ffffff"/><rect x="1288" y="970" width="2" height="2" fill="#ffffff"/><rect x="1296" y="970" width="2" height="2" fill="#ffffff"/><rect x="1288" y="972" width="2" height="2" fill="#ffffff"/><rect x="1290" y="972" width="2" height="2" fill="#ffffff"/><rect x="1292" y="972" width="2" height="2" fill="#ffffff"/><rect x="1294" y="972" width="2" height="2" fill="#ffffff"/><rect x="1288" y="974" width="2" height="2" fill="#ffffff"/><rect x="1288" y="976" width="2" height="2" fill="#ffffff"/><rect x="1288" y="978" width="2" height="2" fill="#ffffff"/><rect x="1288" y="980" width="2" height="2" fill="#ffffff"/><rect x="1300" y="964" width="2" height="2" fill="#ffffff"/><rect x="1302" y="964" width="2" height="2" fill="#ffffff"/><rect x="1304" y="964" width="2" height="2" fill="#ffffff"/><rect x="1306" y="964" width="2" height="2" fill="#ffffff"/><rect x="1308" y="964" width="2" height="2" fill="#ffffff"/><rect x="1300" y="966" width="2" height="2" fill="#ffffff"/><rect x="1300" y="968" width="2" height="2" fill="#ffffff"/><rect x="1300" y="970" width="2" height="2" fill="#ffffff"/><rect x="1300" y="972" width="2" height="2" fill="#ffffff"/><rect x="1302" y="972" width="2" height="2" fill="#ffffff"/><rect x="1304" y="972" width="2" height="2" fill="#ffffff"/><rect x="1306" y="972" width="2" height="2" fill="#ffffff"/><rect x="1300" y="974" width="2" height="2" fill="#ffffff"/><rect x="1300" y="976" width="2" height="2" fill="#ffffff"/><rect x="1300" y="978" width="2" height="2" fill="#ffffff"/><rect x="1300" y="980" width="2" height="2" fill="#ffffff"/><rect x="1302" y="980" width="2" height="2" fill="#ffffff"/><rect x="1304" y="980" width="2" height="2" fill="#ffffff"/><rect x="1306" y="980" width="2" height="2" fill="#ffffff"/><rect x="1308" y="980" width="2" height="2" fill="#ffffff"/><path d="M18 776h12v2h-12zM18 778h2v2h-2zM30 778h2v2h-2zM18 780h4v2h-4zM28 780h4v2h-4zM20 782h10v2h-10zM20 784h10v2h-10zM18 786h2v2h-2zM30 786h2v2h-2zM18 788h2v2h-2zM30 788h2v2h-2zM20 790h10v2h-10zM20 792h4v2h-4zM26 792h4v2h-4zM18 794h8v2h-8zM28 794h4v2h-4zM18 796h2v2h-2zM24 796h2v2h-2zM30 796h2v2h-2zM18 798h14v2h-14zM30 802h4v2h-4zM30 806h2v2h-2zM18 808h14v2h-14zM20 810h2v2h-2zM30 810h2v2h-2z" fill="#ff0000"/><rect x="272" y="1310" width="2" height="2" fill="#ff0000"/><rect x="274" y="1310" width="2" height="2" fill="#ff0000"/><rect x="276" y="1310" width="2" height="2" fill="#ff0000"/><rect x="282" y="1310" width="2" height="2" fill="#ff0000"/><rect x="284" y="1310" width="2" height="2" fill="#ff0000"/><rect x="290" y="1310" width="2" height="2" fill="#ff0000"/><rect x="292" y="1310" width="2" height="2" fill="#ff0000"/><rect x="294" y="1310" width="2" height="2" fill="#ff0000"/><rect x="272" y="1312" width="2" height="2" fill="#ff0000"/><rect x="276" y="1312" width="2" height="2" fill="#ff0000"/><rect x="280" y="1312" width="2" height="2" fill="#ff0000"/><rect x="286" y="1312" width="2" height="2" fill="#ff0000"/><rect x="290" y="1312" width="2" height="2" fill="#ff0000"/><rect x="294" y="1312" width="2" height="2" fill="#ff0000"/><rect x="272" y="1314" width="2" height="2" fill="#ff0000"/><rect x="274" y="1314" width="2" height="2" fill="#ff0000"/><rect x="276" y="1314" width="2" height="2" fill="#ff0000"/><rect x="280" y="1314" width="2" height="2" fill="#ff0000"/><rect x="286" y="1314" width="2" height="2" fill="#ff0000"/><rect x="288" y="1314" width="2" height="2" fill="#ff0000"/><rect x="294" y="1314" width="2" height="2" fill="#ff0000"/><rect x="272" y="1316" width="2" height="2" fill="#ff0000"/><rect x="276" y="1316" width="2" height="2" fill="#ff0000"/><rect x="280" y="1316" width="2" height="2" fill="#ff0000"/><rect x="286" y="1316" width="2" height="2" fill="#ff0000"/><rect x="288" y="1316" width="2" height="2" fill="#ff0000"/><rect x="294" y="1316" width="2" height="2" fill="#ff0000"/><rect x="272" y="1318" width="2" height="2" fill="#ff0000"/><rect x="276" y="1318" width="2" height="2" fill="#ff0000"/><rect x="280" y="1318" width="2" height="2" fill="#ff0000"/><rect x="286" y="1318" width="2" height="2" fill="#ff0000"/><rect x="290" y="1318" width="2" height="2" fill="#ff0000"/><rect x="294" y="1318" width="2" height="2" fill="#ff0000"/><rect x="272" y="1320" width="2" height="2" fill="#ff0000"/><rect x="276" y="1320" width="2" height="2" fill="#ff0000"/><rect x="280" y="1320" width="2" height="2" fill="#ff0000"/><rect x="286" y="1320" width="2" height="2" fill="#ff0000"/><rect x="290" y="1320" width="2" height="2" fill="#ff0000"/><rect x="294" y="1320" width="2" height="2" fill="#ff0000"/><rect x="272" y="1322" width="2" height="2" fill="#ff0000"/><rect x="274" y="1322" width="2" height="2" fill="#ff0000"/><rect x="276" y="1322" width="2" height="2" fill="#ff0000"/><rect x="282" y="1322" width="2" height="2" fill="#ff0000"/><rect x="284" y="1322" width="2" height="2" fill="#ff0000"/><rect x="290" y="1322" width="2" height="2" fill="#ff0000"/><rect x="292" y="1322" width="2" height="2" fill="#ff0000"/><rect x="294" y="1322" width="2" height="2" fill="#ff0000"/><path d="M314 318h10v2h-10zM312 320h2v2h-2zM324 320h2v2h-2zM312 322h2v2h-2zM324 322h2v2h-2zM312 324h14v2h-14zM318 326h2v2h-2zM312 328h4v2h-4zM318 328h8v2h-8zM312 330h2v2h-2zM316 330h4v2h-4zM324 330h2v2h-2zM312 332h2v2h-2zM316 332h4v2h-4zM324 332h2v2h-2zM314 334h10v2h-10z" fill="#ff0000"/><path d="M524 1262h6v2h-6zM522 1264h2v2h-2zM528 1264h4v2h-4zM522 1266h2v2h-2zM530 1266h4v2h-4zM518 1268h2v2h-2zM524 1268h2v2h-2zM532 1268h2v2h-2zM516 1270h2v2h-2zM524 1270h4v2h-4zM532 1270h2v2h-2zM514 1272h4v2h-4zM520 1272h6v2h-6zM528 1272h4v2h-4zM516 1274h4v2h-4zM524 1274h4v2h-4zM510 1276h4v2h-4zM518 1276h2v2h-2zM526 1276h2v2h-2zM508 1278h2v2h-2zM514 1278h2v2h-2zM522 1278h4v2h-4zM508 1280h2v2h-2zM514 1280h6v2h-6zM522 1280h2v2h-2zM518 1282h2v2h-2zM518 1284h2v2h-2zM514 1286h4v2h-4z" fill="#ff0000"/><path d="M542 422h6v2h-6zM540 424h2v2h-2zM546 424h4v2h-4zM540 426h2v2h-2zM550 426h2v2h-2zM540 428h4v2h-4zM550 428h4v2h-4zM534 430h2v2h-2zM542 430h4v2h-4zM552 430h2v2h-2zM532 432h2v2h-2zM544 432h4v2h-4zM550 432h4v2h-4zM530 434h4v2h-4zM538 434h6v2h-6zM546 434h6v2h-6zM532 436h6v2h-6zM542 436h4v2h-4zM534 438h4v2h-4zM544 438h2v2h-2zM542 440h4v2h-4zM538 442h6v2h-6z" fill="#ff0000"/><path d="M930 600h14v2h-14zM930 602h2v2h-2zM942 602h4v2h-4zM930 604h4v2h-4zM942 604h4v2h-4zM932 606h12v2h-12zM932 608h12v2h-12zM930 610h2v2h-2zM942 610h4v2h-4zM930 612h2v2h-2zM942 612h4v2h-4zM932 614h12v2h-12zM932 616h2v2h-2zM938 616h6v2h-6zM930 618h4v2h-4zM936 618h2v2h-2zM942 618h4v2h-4zM930 620h2v2h-2zM936 620h2v2h-2zM942 620h4v2h-4zM932 622h12v2h-12zM942 626h6v2h-6zM942 630h4v2h-4zM930 632h16v2h-16zM932 634h2v2h-2zM944 634h2v2h-2z" fill="#ff0000"/><rect x="1154" y="1134" width="2" height="2" fill="#ff0000"/><rect x="1156" y="1134" width="2" height="2" fill="#ff0000"/><rect x="1158" y="1134" width="2" height="2" fill="#ff0000"/><rect x="1164" y="1134" width="2" height="2" fill="#ff0000"/><rect x="1166" y="1134" width="2" height="2" fill="#ff0000"/><rect x="1168" y="1134" width="2" height="2" fill="#ff0000"/><rect x="1172" y="1134" width="2" height="2" fill="#ff0000"/><rect x="1174" y="1134" width="2" height="2" fill="#ff0000"/><rect x="1176" y="1134" width="2" height="2" fill="#ff0000"/><rect x="1154" y="1136" width="2" height="2" fill="#ff0000"/><rect x="1162" y="1136" width="2" height="2" fill="#ff0000"/><rect x="1168" y="1136" width="2" height="2" fill="#ff0000"/><rect x="1172" y="1136" width="2" height="2" fill="#ff0000"/><rect x="1176" y="1136" width="2" height="2" fill="#ff0000"/><rect x="1154" y="1138" width="2" height="2" fill="#ff0000"/><rect x="1156" y="1138" width="2" height="2" fill="#ff0000"/><rect x="1158" y="1138" width="2" height="2" fill="#ff0000"/><rect x="1162" y="1138" width="2" height="2" fill="#ff0000"/><rect x="1168" y="1138" width="2" height="2" fill="#ff0000"/><rect x="1172" y="1138" width="2" height="2" fill="#ff0000"/><rect x="1176" y="1138" width="2" height="2" fill="#ff0000"/><rect x="1178" y="1138" width="2" height="2" fill="#ff0000"/><rect x="1160" y="1140" width="2" height="2" fill="#ff0000"/><rect x="1162" y="1140" width="2" height="2" fill="#ff0000"/><rect x="1168" y="1140" width="2" height="2" fill="#ff0000"/><rect x="1172" y="1140" width="2" height="2" fill="#ff0000"/><rect x="1176" y="1140" width="2" height="2" fill="#ff0000"/><rect x="1178" y="1140" width="2" height="2" fill="#ff0000"/><rect x="1160" y="1142" width="2" height="2" fill="#ff0000"/><rect x="1162" y="1142" width="2" height="2" fill="#ff0000"/><rect x="1168" y="1142" width="2" height="2" fill="#ff0000"/><rect x="1172" y="1142" width="2" height="2" fill="#ff0000"/><rect x="1176" y="1142" width="2" height="2" fill="#ff0000"/><rect x="1154" y="1144" width="2" height="2" fill="#ff0000"/><rect x="1160" y="1144" width="2" height="2" fill="#ff0000"/><rect x="1162" y="1144" width="2" height="2" fill="#ff0000"/><rect x="1168" y="1144" width="2" height="2" fill="#ff0000"/><rect x="1172" y="1144" width="2" height="2" fill="#ff0000"/><rect x="1176" y="1144" width="2" height="2" fill="#ff0000"/><rect x="1156" y="1146" width="2" height="2" fill="#ff0000"/><rect x="1158" y="1146" width="2" height="2" fill="#ff0000"/><rect x="1164" y="1146" width="2" height="2" fill="#ff0000"/><rect x="1166" y="1146" width="2" height="2" fill="#ff0000"/><rect x="1174" y="1146" width="2" height="2" fill="#ff0000"/><path d="M1376 1086h6v2h-6zM1374 1088h2v2h-2zM1380 1088h4v2h-4zM1374 1090h2v2h-2zM1382 1090h4v2h-4zM1370 1092h2v2h-2zM1376 1092h2v2h-2zM1384 1092h2v2h-2zM1368 1094h2v2h-2zM1376 1094h4v2h-4zM1384 1094h2v2h-2zM1366 1096h4v2h-4zM1372 1096h6v2h-6zM1380 1096h4v2h-4zM1368 1098h4v2h-4zM1376 1098h4v2h-4zM1362 1100h4v2h-4zM1370 1100h2v2h-2zM1378 1100h2v2h-2zM1360 1102h2v2h-2zM1366 1102h2v2h-2zM1374 1102h4v2h-4zM1360 1104h2v2h-2zM1366 1104h6v2h-6zM1374 1104h2v2h-2zM1370 1106h2v2h-2zM1370 1108h2v2h-2zM1366 1110h4v2h-4z" fill="#ff0000"/><path d="M1394 246h6v2h-6zM1392 248h2v2h-2zM1398 248h4v2h-4zM1392 250h2v2h-2zM1402 250h2v2h-2zM1392 252h4v2h-4zM1402 252h4v2h-4zM1386 254h2v2h-2zM1394 254h4v2h-4zM1404 254h2v2h-2zM1384 256h2v2h-2zM1396 256h4v2h-4zM1402 256h4v2h-4zM1382 258h4v2h-4zM1390 258h6v2h-6zM1398 258h6v2h-6zM1384 260h6v2h-6zM1394 260h4v2h-4zM1386 262h4v2h-4zM1396 262h2v2h-2zM1394 264h4v2h-4zM1390 266h6v2h-6z" fill="#ff0000"/>
</svg></body></html>
